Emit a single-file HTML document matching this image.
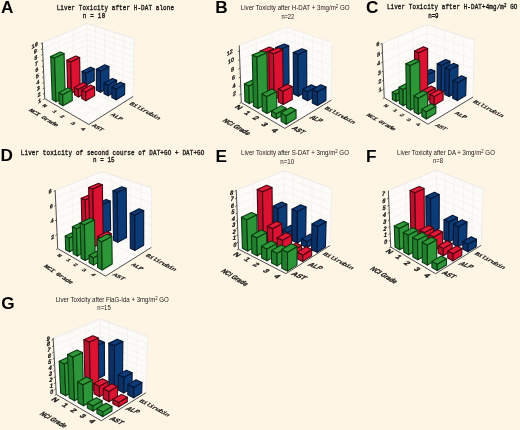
<!DOCTYPE html>
<html><head><meta charset="utf-8"><style>
html,body{margin:0;padding:0;background:#fff5e4;}
svg{display:block;filter:blur(0.4px);}
</style></head><body>
<svg width="520" height="430" viewBox="0 0 520 430">
<rect width="520" height="430" fill="#fff5e4"/>
<!-- panel A -->
<polygon points="44.74,98.71 87.52,75.70 86.95,23.52 42.37,42.87" fill="#fcfbf8"/>
<polygon points="87.52,75.70 132.97,96.48 134.26,38.63 86.95,23.52" fill="#fcfbf8"/>
<polygon points="44.74,98.71 88.91,124.52 132.97,96.48 87.52,75.70" fill="#fcfbf8"/>
<line x1="44.51" y1="93.33" x2="87.46" y2="70.65" stroke="#ebebe9" stroke-width="0.50"/>
<line x1="87.46" y1="70.65" x2="133.09" y2="90.91" stroke="#ebebe9" stroke-width="0.50"/>
<line x1="44.28" y1="87.90" x2="87.41" y2="65.57" stroke="#ebebe9" stroke-width="0.50"/>
<line x1="87.41" y1="65.57" x2="133.22" y2="85.29" stroke="#ebebe9" stroke-width="0.50"/>
<line x1="44.05" y1="82.43" x2="87.35" y2="60.45" stroke="#ebebe9" stroke-width="0.50"/>
<line x1="87.35" y1="60.45" x2="133.34" y2="79.62" stroke="#ebebe9" stroke-width="0.50"/>
<line x1="43.82" y1="76.91" x2="87.29" y2="55.29" stroke="#ebebe9" stroke-width="0.50"/>
<line x1="87.29" y1="55.29" x2="133.47" y2="73.91" stroke="#ebebe9" stroke-width="0.50"/>
<line x1="43.58" y1="71.35" x2="87.24" y2="50.09" stroke="#ebebe9" stroke-width="0.50"/>
<line x1="87.24" y1="50.09" x2="133.60" y2="68.16" stroke="#ebebe9" stroke-width="0.50"/>
<line x1="43.34" y1="65.75" x2="87.18" y2="44.85" stroke="#ebebe9" stroke-width="0.50"/>
<line x1="87.18" y1="44.85" x2="133.73" y2="62.35" stroke="#ebebe9" stroke-width="0.50"/>
<line x1="43.10" y1="60.10" x2="87.12" y2="39.58" stroke="#ebebe9" stroke-width="0.50"/>
<line x1="87.12" y1="39.58" x2="133.86" y2="56.49" stroke="#ebebe9" stroke-width="0.50"/>
<line x1="42.86" y1="54.40" x2="87.07" y2="34.27" stroke="#ebebe9" stroke-width="0.50"/>
<line x1="87.07" y1="34.27" x2="133.99" y2="50.59" stroke="#ebebe9" stroke-width="0.50"/>
<line x1="42.62" y1="48.66" x2="87.01" y2="28.91" stroke="#ebebe9" stroke-width="0.50"/>
<line x1="87.01" y1="28.91" x2="134.13" y2="44.64" stroke="#ebebe9" stroke-width="0.50"/>
<line x1="42.37" y1="42.87" x2="86.95" y2="23.52" stroke="#ebebe9" stroke-width="0.50"/>
<line x1="86.95" y1="23.52" x2="134.26" y2="38.63" stroke="#ebebe9" stroke-width="0.50"/>
<line x1="59.78" y1="90.62" x2="58.08" y2="36.05" stroke="#ebebe9" stroke-width="0.50"/>
<line x1="59.78" y1="90.62" x2="104.51" y2="114.59" stroke="#ebebe9" stroke-width="0.50"/>
<line x1="74.02" y1="82.96" x2="72.92" y2="29.61" stroke="#ebebe9" stroke-width="0.50"/>
<line x1="74.02" y1="82.96" x2="119.17" y2="105.26" stroke="#ebebe9" stroke-width="0.50"/>
<line x1="95.81" y1="79.49" x2="95.55" y2="26.26" stroke="#ebebe9" stroke-width="0.50"/>
<line x1="52.73" y1="103.38" x2="95.81" y2="79.49" stroke="#ebebe9" stroke-width="0.50"/>
<line x1="104.47" y1="83.45" x2="104.55" y2="29.14" stroke="#ebebe9" stroke-width="0.50"/>
<line x1="61.11" y1="108.28" x2="104.47" y2="83.45" stroke="#ebebe9" stroke-width="0.50"/>
<line x1="113.53" y1="87.59" x2="113.98" y2="32.15" stroke="#ebebe9" stroke-width="0.50"/>
<line x1="69.92" y1="113.42" x2="113.53" y2="87.59" stroke="#ebebe9" stroke-width="0.50"/>
<line x1="123.02" y1="91.93" x2="123.87" y2="35.31" stroke="#ebebe9" stroke-width="0.50"/>
<line x1="79.17" y1="118.83" x2="123.02" y2="91.93" stroke="#ebebe9" stroke-width="0.50"/>
<line x1="87.52" y1="75.70" x2="86.95" y2="23.52" stroke="#ebebe9" stroke-width="0.50"/>
<polyline points="42.37,42.87 86.95,23.52 134.26,38.63 132.97,96.48" fill="none" stroke="#e6e6e4" stroke-width="0.6"/>
<polyline points="42.37,42.87 44.74,98.71 88.91,124.52 132.97,96.48" fill="none" stroke="#3c3c3c" stroke-width="0.90"/>
<line x1="44.74" y1="98.71" x2="43.22" y2="99.68" stroke="#3c3c3c" stroke-width="0.8"/>
<line x1="44.51" y1="93.33" x2="42.99" y2="94.29" stroke="#3c3c3c" stroke-width="0.8"/>
<line x1="44.28" y1="87.90" x2="42.76" y2="88.87" stroke="#3c3c3c" stroke-width="0.8"/>
<line x1="44.05" y1="82.43" x2="42.53" y2="83.40" stroke="#3c3c3c" stroke-width="0.8"/>
<line x1="43.82" y1="76.91" x2="42.30" y2="77.88" stroke="#3c3c3c" stroke-width="0.8"/>
<line x1="43.58" y1="71.35" x2="42.06" y2="72.32" stroke="#3c3c3c" stroke-width="0.8"/>
<line x1="43.34" y1="65.75" x2="41.82" y2="66.72" stroke="#3c3c3c" stroke-width="0.8"/>
<line x1="43.10" y1="60.10" x2="41.58" y2="61.07" stroke="#3c3c3c" stroke-width="0.8"/>
<line x1="42.86" y1="54.40" x2="41.34" y2="55.37" stroke="#3c3c3c" stroke-width="0.8"/>
<line x1="42.62" y1="48.66" x2="41.10" y2="49.63" stroke="#3c3c3c" stroke-width="0.8"/>
<line x1="42.37" y1="42.87" x2="40.85" y2="43.84" stroke="#3c3c3c" stroke-width="0.8"/>
<polygon points="82.20,83.39 86.01,85.21 85.85,73.16 82.01,71.44" fill="rgb(12,48,100)" stroke="#051634" stroke-width="1.10" stroke-linejoin="round"/>
<polygon points="86.01,85.21 94.26,80.67 94.17,68.77 85.85,73.16" fill="rgb(12,60,120)" stroke="#051634" stroke-width="1.10" stroke-linejoin="round"/>
<polygon points="82.01,71.44 85.85,73.16 94.17,68.77 90.31,67.12" fill="rgb(14,60,120)" stroke="#051634" stroke-width="1.10" stroke-linejoin="round"/>
<polygon points="96.45,90.22 100.55,92.19 100.47,70.96 96.32,69.19" fill="rgb(12,48,100)" stroke="#051634" stroke-width="1.10" stroke-linejoin="round"/>
<polygon points="100.55,92.19 108.86,87.35 108.91,66.42 100.47,70.96" fill="rgb(12,60,120)" stroke="#051634" stroke-width="1.10" stroke-linejoin="round"/>
<polygon points="96.32,69.19 100.47,70.96 108.91,66.42 104.73,64.73" fill="rgb(14,60,120)" stroke="#051634" stroke-width="1.10" stroke-linejoin="round"/>
<polygon points="103.98,93.83 108.24,95.87 108.26,85.14 103.97,83.20" fill="rgb(12,48,100)" stroke="#051634" stroke-width="1.10" stroke-linejoin="round"/>
<polygon points="108.24,95.87 116.58,90.88 116.66,80.30 108.26,85.14" fill="rgb(12,60,120)" stroke="#051634" stroke-width="1.10" stroke-linejoin="round"/>
<polygon points="103.97,83.20 108.26,85.14 116.66,80.30 112.35,78.44" fill="rgb(14,60,120)" stroke="#051634" stroke-width="1.10" stroke-linejoin="round"/>
<polygon points="111.80,97.58 116.23,99.70 116.31,89.11 111.85,87.08" fill="rgb(12,48,100)" stroke="#051634" stroke-width="1.10" stroke-linejoin="round"/>
<polygon points="116.23,99.70 124.59,94.55 124.73,84.11 116.31,89.11" fill="rgb(12,60,120)" stroke="#051634" stroke-width="1.10" stroke-linejoin="round"/>
<polygon points="111.85,87.08 116.31,89.11 124.73,84.11 120.25,82.17" fill="rgb(14,60,120)" stroke="#051634" stroke-width="1.10" stroke-linejoin="round"/>
<polygon points="67.67,91.28 71.44,93.24 70.71,61.96 66.87,60.28" fill="rgb(186,18,44)" stroke="#4a0510" stroke-width="1.10" stroke-linejoin="round"/>
<polygon points="71.44,93.24 80.17,88.43 79.63,57.58 70.71,61.96" fill="rgb(220,18,50)" stroke="#4a0510" stroke-width="1.10" stroke-linejoin="round"/>
<polygon points="66.87,60.28 70.71,61.96 79.63,57.58 75.76,55.98" fill="rgb(224,26,56)" stroke="#4a0510" stroke-width="1.10" stroke-linejoin="round"/>
<polygon points="74.59,94.88 78.51,96.92 78.37,89.34 74.43,87.37" fill="rgb(186,18,44)" stroke="#4a0510" stroke-width="1.10" stroke-linejoin="round"/>
<polygon points="78.51,96.92 87.28,91.96 87.18,84.48 78.37,89.34" fill="rgb(220,18,50)" stroke="#4a0510" stroke-width="1.10" stroke-linejoin="round"/>
<polygon points="74.43,87.37 78.37,89.34 87.18,84.48 83.22,82.60" fill="rgb(224,26,56)" stroke="#4a0510" stroke-width="1.10" stroke-linejoin="round"/>
<polygon points="81.78,98.62 85.85,100.74 85.73,91.95 81.64,89.91" fill="rgb(186,18,44)" stroke="#4a0510" stroke-width="1.10" stroke-linejoin="round"/>
<polygon points="85.85,100.74 94.66,95.61 94.59,86.95 85.73,91.95" fill="rgb(220,18,50)" stroke="#4a0510" stroke-width="1.10" stroke-linejoin="round"/>
<polygon points="81.64,89.91 85.73,91.95 94.59,86.95 90.48,85.00" fill="rgb(224,26,56)" stroke="#4a0510" stroke-width="1.10" stroke-linejoin="round"/>
<polygon points="52.29,99.64 56.01,101.75 54.52,58.10 50.71,56.40" fill="rgb(34,126,46)" stroke="#0b3a10" stroke-width="1.10" stroke-linejoin="round"/>
<polygon points="56.01,101.75 65.25,96.65 64.06,53.62 54.52,58.10" fill="rgb(44,150,56)" stroke="#0b3a10" stroke-width="1.10" stroke-linejoin="round"/>
<polygon points="50.71,56.40 54.52,58.10 64.06,53.62 60.22,52.00" fill="rgb(48,154,58)" stroke="#0b3a10" stroke-width="1.10" stroke-linejoin="round"/>
<polygon points="59.12,103.51 62.99,105.70 62.66,94.75 58.77,92.66" fill="rgb(34,126,46)" stroke="#0b3a10" stroke-width="1.10" stroke-linejoin="round"/>
<polygon points="62.99,105.70 72.29,100.44 72.04,89.64 62.66,94.75" fill="rgb(44,150,56)" stroke="#0b3a10" stroke-width="1.10" stroke-linejoin="round"/>
<polygon points="58.77,92.66 62.66,94.75 72.04,89.64 68.12,87.64" fill="rgb(48,154,58)" stroke="#0b3a10" stroke-width="1.10" stroke-linejoin="round"/>
<text x="0.98" y="13.20" font-family="Liberation Sans" font-size="17.20" font-weight="bold" font-style="normal" fill="#000">A</text>
<text transform="translate(56.70 9.80) scale(1 1.200)" x="0" y="0" font-family="Liberation Mono" font-size="5.90" font-weight="normal" font-style="normal" fill="#1a1a1a" stroke="#1a1a1a" stroke-width="0.30" textLength="117.30" lengthAdjust="spacing">Liver Toxicity after H-DAT alone</text>
<text transform="translate(82.70 17.90) scale(1 1.200)" x="0" y="0" font-family="Liberation Mono" font-size="5.90" font-weight="normal" font-style="normal" fill="#1a1a1a" stroke="#1a1a1a" stroke-width="0.30" textLength="22.50" lengthAdjust="spacing">n = 10</text>
<text transform="matrix(0.7592 -0.4833 0.0000 0.8500 34.70 45.00)" x="0" y="0" dy="0.36em" text-anchor="middle" font-family="Liberation Mono" font-size="7.00" font-weight="bold" font-style="normal" fill="#111" stroke="#111" stroke-width="0.25">10</text>
<text transform="matrix(0.7592 -0.4833 0.0000 0.8500 35.23 51.17)" x="0" y="0" dy="0.36em" text-anchor="middle" font-family="Liberation Mono" font-size="7.00" font-weight="bold" font-style="normal" fill="#111" stroke="#111" stroke-width="0.25">9</text>
<text transform="matrix(0.7592 -0.4833 0.0000 0.8500 35.77 57.33)" x="0" y="0" dy="0.36em" text-anchor="middle" font-family="Liberation Mono" font-size="7.00" font-weight="bold" font-style="normal" fill="#111" stroke="#111" stroke-width="0.25">8</text>
<text transform="matrix(0.7592 -0.4833 0.0000 0.8500 36.30 63.50)" x="0" y="0" dy="0.36em" text-anchor="middle" font-family="Liberation Mono" font-size="7.00" font-weight="bold" font-style="normal" fill="#111" stroke="#111" stroke-width="0.25">7</text>
<text transform="matrix(0.7592 -0.4833 0.0000 0.8500 36.83 69.67)" x="0" y="0" dy="0.36em" text-anchor="middle" font-family="Liberation Mono" font-size="7.00" font-weight="bold" font-style="normal" fill="#111" stroke="#111" stroke-width="0.25">6</text>
<text transform="matrix(0.7592 -0.4833 0.0000 0.8500 37.37 75.83)" x="0" y="0" dy="0.36em" text-anchor="middle" font-family="Liberation Mono" font-size="7.00" font-weight="bold" font-style="normal" fill="#111" stroke="#111" stroke-width="0.25">5</text>
<text transform="matrix(0.7592 -0.4833 0.0000 0.8500 37.90 82.00)" x="0" y="0" dy="0.36em" text-anchor="middle" font-family="Liberation Mono" font-size="7.00" font-weight="bold" font-style="normal" fill="#111" stroke="#111" stroke-width="0.25">4</text>
<text transform="matrix(0.7592 -0.4833 0.0000 0.8500 38.43 88.17)" x="0" y="0" dy="0.36em" text-anchor="middle" font-family="Liberation Mono" font-size="7.00" font-weight="bold" font-style="normal" fill="#111" stroke="#111" stroke-width="0.25">3</text>
<text transform="matrix(0.7592 -0.4833 0.0000 0.8500 38.97 94.33)" x="0" y="0" dy="0.36em" text-anchor="middle" font-family="Liberation Mono" font-size="7.00" font-weight="bold" font-style="normal" fill="#111" stroke="#111" stroke-width="0.25">2</text>
<text transform="matrix(0.7592 -0.4833 0.0000 0.8500 39.50 100.50)" x="0" y="0" dy="0.36em" text-anchor="middle" font-family="Liberation Mono" font-size="7.00" font-weight="bold" font-style="normal" fill="#111" stroke="#111" stroke-width="0.25">1</text>
<text transform="matrix(0.8634 0.5045 -0.7171 0.4564 45.00 105.60)" x="0" y="0" dy="0.36em" text-anchor="middle" font-family="Liberation Mono" font-size="6.20" font-weight="bold" font-style="normal" fill="#151515" stroke="#151515" stroke-width="0.15">N</text>
<text transform="matrix(0.8634 0.5045 -0.7171 0.4564 55.00 111.30)" x="0" y="0" dy="0.36em" text-anchor="middle" font-family="Liberation Mono" font-size="6.20" font-weight="bold" font-style="normal" fill="#151515" stroke="#151515" stroke-width="0.15">1</text>
<text transform="matrix(0.8634 0.5045 -0.7171 0.4564 62.50 116.30)" x="0" y="0" dy="0.36em" text-anchor="middle" font-family="Liberation Mono" font-size="6.20" font-weight="bold" font-style="normal" fill="#151515" stroke="#151515" stroke-width="0.15">2</text>
<text transform="matrix(0.8634 0.5045 -0.7171 0.4564 73.10 123.10)" x="0" y="0" dy="0.36em" text-anchor="middle" font-family="Liberation Mono" font-size="6.20" font-weight="bold" font-style="normal" fill="#151515" stroke="#151515" stroke-width="0.15">3</text>
<text transform="matrix(0.8634 0.5045 -0.7171 0.4564 83.10 128.80)" x="0" y="0" dy="0.36em" text-anchor="middle" font-family="Liberation Mono" font-size="6.20" font-weight="bold" font-style="normal" fill="#151515" stroke="#151515" stroke-width="0.15">4</text>
<text transform="matrix(0.8663 0.4995 -0.7592 0.4833 44.05 117.50)" x="0" y="0" dy="0.36em" text-anchor="middle" font-family="Liberation Mono" font-size="6.80" font-weight="bold" font-style="normal" fill="#151515" stroke="#151515" stroke-width="0.15" textLength="32.44" lengthAdjust="spacing">NCI Grade</text>
<text transform="matrix(0.8693 0.4943 -0.7592 0.4833 98.10 127.50)" x="0" y="0" dy="0.36em" text-anchor="middle" font-family="Liberation Mono" font-size="6.80" font-weight="bold" font-style="normal" fill="#151515" stroke="#151515" stroke-width="0.15" textLength="11.73" lengthAdjust="spacing">AST</text>
<text transform="matrix(0.8844 0.4668 -0.7592 0.4833 117.20 116.65)" x="0" y="0" dy="0.36em" text-anchor="middle" font-family="Liberation Mono" font-size="6.80" font-weight="bold" font-style="normal" fill="#151515" stroke="#151515" stroke-width="0.15" textLength="12.21" lengthAdjust="spacing">ALP</text>
<text transform="matrix(0.8809 0.4732 -0.7592 0.4833 145.40 110.85)" x="0" y="0" dy="0.36em" text-anchor="middle" font-family="Liberation Mono" font-size="6.80" font-weight="bold" font-style="normal" fill="#151515" stroke="#151515" stroke-width="0.15" textLength="33.60" lengthAdjust="spacing">Bilirubin</text>
<!-- panel B -->
<polygon points="241.27,102.60 287.29,79.40 286.64,26.98 239.24,45.41" fill="#fcfbf8"/>
<polygon points="287.29,79.40 331.33,100.13 331.86,42.62 286.64,26.98" fill="#fcfbf8"/>
<polygon points="241.27,102.60 284.86,128.38 331.33,100.13 287.29,79.40" fill="#fcfbf8"/>
<line x1="240.97" y1="94.14" x2="287.19" y2="71.63" stroke="#ebebe9" stroke-width="0.50"/>
<line x1="287.19" y1="71.63" x2="331.41" y2="91.63" stroke="#ebebe9" stroke-width="0.50"/>
<line x1="240.67" y1="85.60" x2="287.10" y2="63.80" stroke="#ebebe9" stroke-width="0.50"/>
<line x1="287.10" y1="63.80" x2="331.49" y2="83.04" stroke="#ebebe9" stroke-width="0.50"/>
<line x1="240.37" y1="77.00" x2="287.00" y2="55.91" stroke="#ebebe9" stroke-width="0.50"/>
<line x1="287.00" y1="55.91" x2="331.57" y2="74.39" stroke="#ebebe9" stroke-width="0.50"/>
<line x1="240.06" y1="68.32" x2="286.90" y2="47.95" stroke="#ebebe9" stroke-width="0.50"/>
<line x1="286.90" y1="47.95" x2="331.65" y2="65.66" stroke="#ebebe9" stroke-width="0.50"/>
<line x1="239.75" y1="59.57" x2="286.80" y2="39.94" stroke="#ebebe9" stroke-width="0.50"/>
<line x1="286.80" y1="39.94" x2="331.73" y2="56.86" stroke="#ebebe9" stroke-width="0.50"/>
<line x1="239.43" y1="50.74" x2="286.70" y2="31.86" stroke="#ebebe9" stroke-width="0.50"/>
<line x1="286.70" y1="31.86" x2="331.81" y2="47.98" stroke="#ebebe9" stroke-width="0.50"/>
<line x1="257.61" y1="94.36" x2="256.10" y2="38.86" stroke="#ebebe9" stroke-width="0.50"/>
<line x1="257.61" y1="94.36" x2="301.47" y2="118.28" stroke="#ebebe9" stroke-width="0.50"/>
<line x1="272.92" y1="86.65" x2="271.86" y2="32.73" stroke="#ebebe9" stroke-width="0.50"/>
<line x1="272.92" y1="86.65" x2="316.92" y2="108.89" stroke="#ebebe9" stroke-width="0.50"/>
<line x1="295.41" y1="83.23" x2="294.96" y2="29.86" stroke="#ebebe9" stroke-width="0.50"/>
<line x1="249.24" y1="107.31" x2="295.41" y2="83.23" stroke="#ebebe9" stroke-width="0.50"/>
<line x1="303.86" y1="87.20" x2="303.62" y2="32.85" stroke="#ebebe9" stroke-width="0.50"/>
<line x1="257.56" y1="112.23" x2="303.86" y2="87.20" stroke="#ebebe9" stroke-width="0.50"/>
<line x1="312.64" y1="91.34" x2="312.64" y2="35.97" stroke="#ebebe9" stroke-width="0.50"/>
<line x1="266.26" y1="117.37" x2="312.64" y2="91.34" stroke="#ebebe9" stroke-width="0.50"/>
<line x1="321.79" y1="95.65" x2="322.05" y2="39.22" stroke="#ebebe9" stroke-width="0.50"/>
<line x1="275.35" y1="122.75" x2="321.79" y2="95.65" stroke="#ebebe9" stroke-width="0.50"/>
<line x1="287.29" y1="79.40" x2="286.64" y2="26.98" stroke="#ebebe9" stroke-width="0.50"/>
<polyline points="239.24,45.41 286.64,26.98 331.86,42.62 331.33,100.13" fill="none" stroke="#e6e6e4" stroke-width="0.6"/>
<polyline points="239.24,45.41 241.27,102.60 284.86,128.38 331.33,100.13" fill="none" stroke="#3c3c3c" stroke-width="0.90"/>
<line x1="241.27" y1="102.60" x2="239.74" y2="103.53" stroke="#3c3c3c" stroke-width="0.8"/>
<line x1="240.97" y1="94.14" x2="239.44" y2="95.07" stroke="#3c3c3c" stroke-width="0.8"/>
<line x1="240.67" y1="85.60" x2="239.13" y2="86.54" stroke="#3c3c3c" stroke-width="0.8"/>
<line x1="240.37" y1="77.00" x2="238.83" y2="77.93" stroke="#3c3c3c" stroke-width="0.8"/>
<line x1="240.06" y1="68.32" x2="238.52" y2="69.26" stroke="#3c3c3c" stroke-width="0.8"/>
<line x1="239.75" y1="59.57" x2="238.21" y2="60.50" stroke="#3c3c3c" stroke-width="0.8"/>
<line x1="239.43" y1="50.74" x2="237.89" y2="51.68" stroke="#3c3c3c" stroke-width="0.8"/>
<polygon points="276.11,85.45 280.53,87.59 280.07,49.43 275.59,47.63" fill="rgb(12,48,100)" stroke="#051634" stroke-width="1.10" stroke-linejoin="round"/>
<polygon points="280.53,87.59 289.04,83.22 288.71,45.73 280.07,49.43" fill="rgb(12,60,120)" stroke="#051634" stroke-width="1.10" stroke-linejoin="round"/>
<polygon points="275.59,47.63 280.07,49.43 288.71,45.73 284.23,44.00" fill="rgb(14,60,120)" stroke="#051634" stroke-width="1.10" stroke-linejoin="round"/>
<polygon points="293.51,93.88 298.29,96.19 298.07,54.48 293.22,52.56" fill="rgb(12,48,100)" stroke="#051634" stroke-width="1.10" stroke-linejoin="round"/>
<polygon points="298.29,96.19 306.78,91.48 306.69,50.52 298.07,54.48" fill="rgb(12,60,120)" stroke="#051634" stroke-width="1.10" stroke-linejoin="round"/>
<polygon points="293.22,52.56 298.07,54.48 306.69,50.52 301.85,48.68" fill="rgb(14,60,120)" stroke="#051634" stroke-width="1.10" stroke-linejoin="round"/>
<polygon points="302.73,98.34 307.70,100.75 307.68,91.65 302.70,89.33" fill="rgb(12,48,100)" stroke="#051634" stroke-width="1.10" stroke-linejoin="round"/>
<polygon points="307.70,100.75 316.16,95.86 316.18,86.92 307.68,91.65" fill="rgb(12,60,120)" stroke="#051634" stroke-width="1.10" stroke-linejoin="round"/>
<polygon points="302.70,89.33 307.68,91.65 316.18,86.92 311.21,84.70" fill="rgb(14,60,120)" stroke="#051634" stroke-width="1.10" stroke-linejoin="round"/>
<polygon points="312.32,102.99 317.49,105.49 317.52,91.83 312.33,89.46" fill="rgb(12,48,100)" stroke="#051634" stroke-width="1.10" stroke-linejoin="round"/>
<polygon points="317.49,105.49 325.93,100.41 326.00,87.00 317.52,91.83" fill="rgb(12,60,120)" stroke="#051634" stroke-width="1.10" stroke-linejoin="round"/>
<polygon points="312.33,89.46 317.52,91.83 326.00,87.00 320.82,84.73" fill="rgb(14,60,120)" stroke="#051634" stroke-width="1.10" stroke-linejoin="round"/>
<polygon points="261.03,93.04 265.45,95.33 264.68,52.82 260.20,50.92" fill="rgb(186,18,44)" stroke="#4a0510" stroke-width="1.10" stroke-linejoin="round"/>
<polygon points="265.45,95.33 274.53,90.67 273.93,48.92 264.68,52.82" fill="rgb(220,18,50)" stroke="#4a0510" stroke-width="1.10" stroke-linejoin="round"/>
<polygon points="260.20,50.92 264.68,52.82 273.93,48.92 269.44,47.10" fill="rgb(224,26,56)" stroke="#4a0510" stroke-width="1.10" stroke-linejoin="round"/>
<polygon points="269.56,97.47 274.16,99.85 273.48,53.69 268.81,51.75" fill="rgb(186,18,44)" stroke="#4a0510" stroke-width="1.10" stroke-linejoin="round"/>
<polygon points="274.16,99.85 283.24,95.01 282.74,49.69 273.48,53.69" fill="rgb(220,18,50)" stroke="#4a0510" stroke-width="1.10" stroke-linejoin="round"/>
<polygon points="268.81,51.75 273.48,53.69 282.74,49.69 278.07,47.83" fill="rgb(224,26,56)" stroke="#4a0510" stroke-width="1.10" stroke-linejoin="round"/>
<polygon points="278.43,102.07 283.21,104.55 283.07,91.36 278.26,89.01" fill="rgb(186,18,44)" stroke="#4a0510" stroke-width="1.10" stroke-linejoin="round"/>
<polygon points="283.21,104.55 292.29,99.51 292.20,86.57 283.07,91.36" fill="rgb(220,18,50)" stroke="#4a0510" stroke-width="1.10" stroke-linejoin="round"/>
<polygon points="278.26,89.01 283.07,91.36 292.20,86.57 287.40,84.31" fill="rgb(224,26,56)" stroke="#4a0510" stroke-width="1.10" stroke-linejoin="round"/>
<polygon points="244.93,101.16 249.33,103.62 248.90,86.07 244.48,83.78" fill="rgb(34,126,46)" stroke="#0b3a10" stroke-width="1.10" stroke-linejoin="round"/>
<polygon points="249.33,103.62 259.04,98.63 258.68,81.40 248.90,86.07" fill="rgb(44,150,56)" stroke="#0b3a10" stroke-width="1.10" stroke-linejoin="round"/>
<polygon points="244.48,83.78 248.90,86.07 258.68,81.40 254.25,79.21" fill="rgb(48,154,58)" stroke="#0b3a10" stroke-width="1.10" stroke-linejoin="round"/>
<polygon points="253.43,105.90 258.01,108.46 256.93,57.08 252.27,55.02" fill="rgb(34,126,46)" stroke="#0b3a10" stroke-width="1.10" stroke-linejoin="round"/>
<polygon points="258.01,108.46 267.74,103.27 266.87,52.86 256.93,57.08" fill="rgb(44,150,56)" stroke="#0b3a10" stroke-width="1.10" stroke-linejoin="round"/>
<polygon points="252.27,55.02 256.93,57.08 266.87,52.86 262.20,50.90" fill="rgb(48,154,58)" stroke="#0b3a10" stroke-width="1.10" stroke-linejoin="round"/>
<polygon points="262.28,110.84 267.06,113.51 266.76,96.48 261.95,93.99" fill="rgb(34,126,46)" stroke="#0b3a10" stroke-width="1.10" stroke-linejoin="round"/>
<polygon points="267.06,113.51 276.79,108.11 276.57,91.41 266.76,96.48" fill="rgb(44,150,56)" stroke="#0b3a10" stroke-width="1.10" stroke-linejoin="round"/>
<polygon points="261.95,93.99 266.76,96.48 276.57,91.41 271.76,89.02" fill="rgb(48,154,58)" stroke="#0b3a10" stroke-width="1.10" stroke-linejoin="round"/>
<polygon points="271.51,115.99 276.49,118.77 276.42,113.77 271.43,111.04" fill="rgb(34,126,46)" stroke="#0b3a10" stroke-width="1.10" stroke-linejoin="round"/>
<polygon points="276.49,118.77 286.23,113.15 286.18,108.24 276.42,113.77" fill="rgb(44,150,56)" stroke="#0b3a10" stroke-width="1.10" stroke-linejoin="round"/>
<polygon points="271.43,111.04 276.42,113.77 286.18,108.24 281.19,105.63" fill="rgb(48,154,58)" stroke="#0b3a10" stroke-width="1.10" stroke-linejoin="round"/>
<polygon points="281.13,121.36 286.33,124.26 286.25,115.69 281.03,112.88" fill="rgb(34,126,46)" stroke="#0b3a10" stroke-width="1.10" stroke-linejoin="round"/>
<polygon points="286.33,124.26 296.07,118.40 296.02,110.00 286.25,115.69" fill="rgb(44,150,56)" stroke="#0b3a10" stroke-width="1.10" stroke-linejoin="round"/>
<polygon points="281.03,112.88 286.25,115.69 296.02,110.00 290.80,107.31" fill="rgb(48,154,58)" stroke="#0b3a10" stroke-width="1.10" stroke-linejoin="round"/>
<text x="215.23" y="12.60" font-family="Liberation Sans" font-size="17.20" font-weight="bold" font-style="normal" fill="#000">B</text>
<text x="240.80" y="10.00" font-family="Liberation Sans" font-size="7.00" font-weight="normal" font-style="normal" fill="#1a1a1a" textLength="108.70" lengthAdjust="spacingAndGlyphs">Liver Toxicity after H-DAT + 3mg/m<tspan font-size="70%" dy="-2.2">2</tspan><tspan dy="2.2"> GO</tspan></text>
<text x="281.40" y="19.00" font-family="Liberation Sans" font-size="7.00" font-weight="normal" font-style="normal" fill="#1a1a1a" textLength="12.80" lengthAdjust="spacingAndGlyphs">n=22</text>
<text transform="matrix(0.7691 -0.4675 0.0000 0.8500 229.70 52.40)" x="0" y="0" dy="0.36em" text-anchor="middle" font-family="Liberation Sans" font-size="7.00" font-weight="bold" font-style="normal" fill="#111" stroke="#111" stroke-width="0.25">12</text>
<text transform="matrix(0.7691 -0.4675 0.0000 0.8500 231.10 60.50)" x="0" y="0" dy="0.36em" text-anchor="middle" font-family="Liberation Sans" font-size="7.00" font-weight="bold" font-style="normal" fill="#111" stroke="#111" stroke-width="0.25">10</text>
<text transform="matrix(0.7691 -0.4675 0.0000 0.8500 232.50 69.10)" x="0" y="0" dy="0.36em" text-anchor="middle" font-family="Liberation Sans" font-size="7.00" font-weight="bold" font-style="normal" fill="#111" stroke="#111" stroke-width="0.25">8</text>
<text transform="matrix(0.7691 -0.4675 0.0000 0.8500 233.40 77.50)" x="0" y="0" dy="0.36em" text-anchor="middle" font-family="Liberation Sans" font-size="7.00" font-weight="bold" font-style="normal" fill="#111" stroke="#111" stroke-width="0.25">6</text>
<text transform="matrix(0.7691 -0.4675 0.0000 0.8500 233.90 85.60)" x="0" y="0" dy="0.36em" text-anchor="middle" font-family="Liberation Sans" font-size="7.00" font-weight="bold" font-style="normal" fill="#111" stroke="#111" stroke-width="0.25">4</text>
<text transform="matrix(0.7691 -0.4675 0.0000 0.8500 234.60 93.50)" x="0" y="0" dy="0.36em" text-anchor="middle" font-family="Liberation Sans" font-size="7.00" font-weight="bold" font-style="normal" fill="#111" stroke="#111" stroke-width="0.25">2</text>
<text transform="matrix(0.8607 0.5091 -0.8545 0.5195 238.80 107.20)" x="0" y="0" dy="0.36em" text-anchor="middle" font-family="Liberation Sans" font-size="7.50" font-weight="bold" font-style="normal" fill="#151515" stroke="#151515" stroke-width="0.30">N</text>
<text transform="matrix(0.8607 0.5091 -0.8545 0.5195 247.50 113.00)" x="0" y="0" dy="0.36em" text-anchor="middle" font-family="Liberation Sans" font-size="7.50" font-weight="bold" font-style="normal" fill="#151515" stroke="#151515" stroke-width="0.30">1</text>
<text transform="matrix(0.8607 0.5091 -0.8545 0.5195 256.10 118.00)" x="0" y="0" dy="0.36em" text-anchor="middle" font-family="Liberation Sans" font-size="7.50" font-weight="bold" font-style="normal" fill="#151515" stroke="#151515" stroke-width="0.30">2</text>
<text transform="matrix(0.8607 0.5091 -0.8545 0.5195 264.80 124.50)" x="0" y="0" dy="0.36em" text-anchor="middle" font-family="Liberation Sans" font-size="7.50" font-weight="bold" font-style="normal" fill="#151515" stroke="#151515" stroke-width="0.30">3</text>
<text transform="matrix(0.8607 0.5091 -0.8545 0.5195 274.90 130.30)" x="0" y="0" dy="0.36em" text-anchor="middle" font-family="Liberation Sans" font-size="7.50" font-weight="bold" font-style="normal" fill="#151515" stroke="#151515" stroke-width="0.30">4</text>
<text transform="matrix(0.8682 0.4961 -0.8545 0.5195 237.00 126.70)" x="0" y="0" dy="0.36em" text-anchor="middle" font-family="Liberation Sans" font-size="7.50" font-weight="bold" font-style="normal" fill="#151515" stroke="#151515" stroke-width="0.30" textLength="29.02" lengthAdjust="spacingAndGlyphs">NCI Grade</text>
<text transform="matrix(0.8928 0.4505 -0.8545 0.5195 298.85 130.00)" x="0" y="0" dy="0.36em" text-anchor="middle" font-family="Liberation Sans" font-size="7.50" font-weight="bold" font-style="normal" fill="#151515" stroke="#151515" stroke-width="0.30" textLength="11.99" lengthAdjust="spacingAndGlyphs">AST</text>
<text transform="matrix(0.9156 0.4022 -0.8545 0.5195 316.55 118.85)" x="0" y="0" dy="0.36em" text-anchor="middle" font-family="Liberation Sans" font-size="7.50" font-weight="bold" font-style="normal" fill="#151515" stroke="#151515" stroke-width="0.30" textLength="11.69" lengthAdjust="spacingAndGlyphs">ALP</text>
<text transform="matrix(0.8845 0.4665 -0.7691 0.4675 340.40 115.00)" x="0" y="0" dy="0.36em" text-anchor="middle" font-family="Liberation Mono" font-size="6.80" font-weight="bold" font-style="normal" fill="#151515" stroke="#151515" stroke-width="0.15" textLength="33.01" lengthAdjust="spacing">Bilirubin</text>
<!-- panel C -->
<polygon points="384.21,97.82 427.33,75.74 426.98,24.60 382.11,43.28" fill="#fcfbf8"/>
<polygon points="427.33,75.74 473.01,97.08 474.51,40.02 426.98,24.60" fill="#fcfbf8"/>
<polygon points="384.21,97.82 428.07,124.20 473.01,97.08 427.33,75.74" fill="#fcfbf8"/>
<line x1="383.87" y1="89.02" x2="427.27" y2="67.47" stroke="#ebebe9" stroke-width="0.50"/>
<line x1="427.27" y1="67.47" x2="473.25" y2="87.89" stroke="#ebebe9" stroke-width="0.50"/>
<line x1="383.53" y1="80.11" x2="427.21" y2="59.10" stroke="#ebebe9" stroke-width="0.50"/>
<line x1="427.21" y1="59.10" x2="473.50" y2="78.57" stroke="#ebebe9" stroke-width="0.50"/>
<line x1="383.18" y1="71.08" x2="427.16" y2="50.63" stroke="#ebebe9" stroke-width="0.50"/>
<line x1="427.16" y1="50.63" x2="473.75" y2="69.13" stroke="#ebebe9" stroke-width="0.50"/>
<line x1="382.83" y1="61.94" x2="427.10" y2="42.06" stroke="#ebebe9" stroke-width="0.50"/>
<line x1="427.10" y1="42.06" x2="474.00" y2="59.56" stroke="#ebebe9" stroke-width="0.50"/>
<line x1="382.47" y1="52.67" x2="427.04" y2="33.38" stroke="#ebebe9" stroke-width="0.50"/>
<line x1="427.04" y1="33.38" x2="474.26" y2="49.86" stroke="#ebebe9" stroke-width="0.50"/>
<line x1="382.11" y1="43.28" x2="426.98" y2="24.60" stroke="#ebebe9" stroke-width="0.50"/>
<line x1="426.98" y1="24.60" x2="474.51" y2="40.02" stroke="#ebebe9" stroke-width="0.50"/>
<line x1="399.34" y1="90.07" x2="397.88" y2="36.71" stroke="#ebebe9" stroke-width="0.50"/>
<line x1="399.34" y1="90.07" x2="443.94" y2="114.62" stroke="#ebebe9" stroke-width="0.50"/>
<line x1="413.69" y1="82.72" x2="412.81" y2="30.50" stroke="#ebebe9" stroke-width="0.50"/>
<line x1="413.69" y1="82.72" x2="458.90" y2="105.60" stroke="#ebebe9" stroke-width="0.50"/>
<line x1="435.62" y1="79.61" x2="435.57" y2="27.39" stroke="#ebebe9" stroke-width="0.50"/>
<line x1="392.10" y1="102.57" x2="435.62" y2="79.61" stroke="#ebebe9" stroke-width="0.50"/>
<line x1="444.30" y1="83.67" x2="444.58" y2="30.31" stroke="#ebebe9" stroke-width="0.50"/>
<line x1="400.40" y1="107.56" x2="444.30" y2="83.67" stroke="#ebebe9" stroke-width="0.50"/>
<line x1="453.41" y1="87.92" x2="454.06" y2="33.39" stroke="#ebebe9" stroke-width="0.50"/>
<line x1="409.14" y1="112.81" x2="453.41" y2="87.92" stroke="#ebebe9" stroke-width="0.50"/>
<line x1="462.97" y1="92.39" x2="464.02" y2="36.62" stroke="#ebebe9" stroke-width="0.50"/>
<line x1="418.35" y1="118.35" x2="462.97" y2="92.39" stroke="#ebebe9" stroke-width="0.50"/>
<line x1="427.33" y1="75.74" x2="426.98" y2="24.60" stroke="#ebebe9" stroke-width="0.50"/>
<polyline points="382.11,43.28 426.98,24.60 474.51,40.02 473.01,97.08" fill="none" stroke="#e6e6e4" stroke-width="0.6"/>
<polyline points="382.11,43.28 384.21,97.82 428.07,124.20 473.01,97.08" fill="none" stroke="#3c3c3c" stroke-width="0.90"/>
<line x1="384.21" y1="97.82" x2="382.67" y2="98.75" stroke="#3c3c3c" stroke-width="0.8"/>
<line x1="383.87" y1="89.02" x2="382.33" y2="89.95" stroke="#3c3c3c" stroke-width="0.8"/>
<line x1="383.53" y1="80.11" x2="381.99" y2="81.04" stroke="#3c3c3c" stroke-width="0.8"/>
<line x1="383.18" y1="71.08" x2="381.64" y2="72.01" stroke="#3c3c3c" stroke-width="0.8"/>
<line x1="382.83" y1="61.94" x2="381.29" y2="62.87" stroke="#3c3c3c" stroke-width="0.8"/>
<line x1="382.47" y1="52.67" x2="380.93" y2="53.60" stroke="#3c3c3c" stroke-width="0.8"/>
<line x1="382.11" y1="43.28" x2="380.57" y2="44.21" stroke="#3c3c3c" stroke-width="0.8"/>
<polygon points="422.55,83.65 426.49,85.57 426.47,75.28 422.50,73.46" fill="rgb(12,48,100)" stroke="#051634" stroke-width="1.10" stroke-linejoin="round"/>
<polygon points="426.49,85.57 434.73,81.20 434.76,71.05 426.47,75.28" fill="rgb(12,60,120)" stroke="#051634" stroke-width="1.10" stroke-linejoin="round"/>
<polygon points="422.50,73.46 426.47,75.28 434.76,71.05 430.77,69.30" fill="rgb(14,60,120)" stroke="#051634" stroke-width="1.10" stroke-linejoin="round"/>
<polygon points="437.05,90.71 441.31,92.78 441.52,65.56 437.19,63.76" fill="rgb(12,48,100)" stroke="#051634" stroke-width="1.10" stroke-linejoin="round"/>
<polygon points="441.31,92.78 449.63,88.13 449.98,61.27 441.52,65.56" fill="rgb(12,60,120)" stroke="#051634" stroke-width="1.10" stroke-linejoin="round"/>
<polygon points="437.19,63.76 441.52,65.56 449.98,61.27 445.62,59.54" fill="rgb(14,60,120)" stroke="#051634" stroke-width="1.10" stroke-linejoin="round"/>
<polygon points="444.74,94.45 449.17,96.60 449.51,69.62 445.01,67.73" fill="rgb(12,48,100)" stroke="#051634" stroke-width="1.10" stroke-linejoin="round"/>
<polygon points="449.17,96.60 457.52,91.79 458.01,65.18 449.51,69.62" fill="rgb(12,60,120)" stroke="#051634" stroke-width="1.10" stroke-linejoin="round"/>
<polygon points="445.01,67.73 449.51,69.62 458.01,65.18 453.48,63.37" fill="rgb(14,60,120)" stroke="#051634" stroke-width="1.10" stroke-linejoin="round"/>
<polygon points="452.73,98.34 457.34,100.58 457.68,82.48 453.01,80.42" fill="rgb(12,48,100)" stroke="#051634" stroke-width="1.10" stroke-linejoin="round"/>
<polygon points="457.34,100.58 465.73,95.61 466.15,77.76 457.68,82.48" fill="rgb(12,60,120)" stroke="#051634" stroke-width="1.10" stroke-linejoin="round"/>
<polygon points="453.01,80.42 457.68,82.48 466.15,77.76 461.47,75.78" fill="rgb(14,60,120)" stroke="#051634" stroke-width="1.10" stroke-linejoin="round"/>
<polygon points="414.92,95.02 418.97,97.15 418.66,52.63 414.50,50.93" fill="rgb(186,18,44)" stroke="#4a0510" stroke-width="1.10" stroke-linejoin="round"/>
<polygon points="418.97,97.15 427.72,92.39 427.66,48.47 418.66,52.63" fill="rgb(220,18,50)" stroke="#4a0510" stroke-width="1.10" stroke-linejoin="round"/>
<polygon points="414.50,50.93 418.66,52.63 427.66,48.47 423.47,46.85" fill="rgb(224,26,56)" stroke="#4a0510" stroke-width="1.10" stroke-linejoin="round"/>
<polygon points="422.23,98.87 426.44,101.10 426.42,92.97 422.19,90.82" fill="rgb(186,18,44)" stroke="#4a0510" stroke-width="1.10" stroke-linejoin="round"/>
<polygon points="426.44,101.10 435.24,96.18 435.27,88.15 426.42,92.97" fill="rgb(220,18,50)" stroke="#4a0510" stroke-width="1.10" stroke-linejoin="round"/>
<polygon points="422.19,90.82 426.42,92.97 435.27,88.15 431.01,86.10" fill="rgb(224,26,56)" stroke="#4a0510" stroke-width="1.10" stroke-linejoin="round"/>
<polygon points="429.83,102.89 434.22,105.20 434.24,96.61 429.83,94.38" fill="rgb(186,18,44)" stroke="#4a0510" stroke-width="1.10" stroke-linejoin="round"/>
<polygon points="434.22,105.20 443.06,100.11 443.14,91.64 434.24,96.61" fill="rgb(220,18,50)" stroke="#4a0510" stroke-width="1.10" stroke-linejoin="round"/>
<polygon points="429.83,94.38 434.24,96.61 443.14,91.64 438.70,89.51" fill="rgb(224,26,56)" stroke="#4a0510" stroke-width="1.10" stroke-linejoin="round"/>
<polygon points="392.43,99.40 396.25,101.60 396.09,94.27 392.25,92.14" fill="rgb(34,126,46)" stroke="#0b3a10" stroke-width="1.10" stroke-linejoin="round"/>
<polygon points="396.25,101.60 405.44,96.73 405.33,89.49 396.09,94.27" fill="rgb(44,150,56)" stroke="#0b3a10" stroke-width="1.10" stroke-linejoin="round"/>
<polygon points="392.25,92.14 396.09,94.27 405.33,89.49 401.45,87.45" fill="rgb(48,154,58)" stroke="#0b3a10" stroke-width="1.10" stroke-linejoin="round"/>
<polygon points="399.34,103.38 403.32,105.67 403.04,89.44 399.01,87.31" fill="rgb(34,126,46)" stroke="#0b3a10" stroke-width="1.10" stroke-linejoin="round"/>
<polygon points="403.32,105.67 412.58,100.63 412.40,84.63 403.04,89.44" fill="rgb(44,150,56)" stroke="#0b3a10" stroke-width="1.10" stroke-linejoin="round"/>
<polygon points="399.01,87.31 403.04,89.44 412.40,84.63 408.34,82.58" fill="rgb(48,154,58)" stroke="#0b3a10" stroke-width="1.10" stroke-linejoin="round"/>
<polygon points="406.54,107.52 410.69,109.91 410.13,65.58 405.86,63.65" fill="rgb(34,126,46)" stroke="#0b3a10" stroke-width="1.10" stroke-linejoin="round"/>
<polygon points="410.69,109.91 420.01,104.69 419.73,61.00 410.13,65.58" fill="rgb(44,150,56)" stroke="#0b3a10" stroke-width="1.10" stroke-linejoin="round"/>
<polygon points="405.86,63.65 410.13,65.58 419.73,61.00 415.42,59.15" fill="rgb(48,154,58)" stroke="#0b3a10" stroke-width="1.10" stroke-linejoin="round"/>
<polygon points="414.04,111.83 418.37,114.32 418.24,98.16 413.87,95.84" fill="rgb(34,126,46)" stroke="#0b3a10" stroke-width="1.10" stroke-linejoin="round"/>
<polygon points="418.37,114.32 427.75,108.92 427.73,92.99 418.24,98.16" fill="rgb(44,150,56)" stroke="#0b3a10" stroke-width="1.10" stroke-linejoin="round"/>
<polygon points="413.87,95.84 418.24,98.16 427.73,92.99 423.32,90.76" fill="rgb(48,154,58)" stroke="#0b3a10" stroke-width="1.10" stroke-linejoin="round"/>
<polygon points="421.86,116.33 426.38,118.93 426.36,111.66 421.82,109.14" fill="rgb(34,126,46)" stroke="#0b3a10" stroke-width="1.10" stroke-linejoin="round"/>
<polygon points="426.38,118.93 435.82,113.34 435.85,106.17 426.36,111.66" fill="rgb(44,150,56)" stroke="#0b3a10" stroke-width="1.10" stroke-linejoin="round"/>
<polygon points="421.82,109.14 426.36,111.66 435.85,106.17 431.28,103.75" fill="rgb(48,154,58)" stroke="#0b3a10" stroke-width="1.10" stroke-linejoin="round"/>
<text x="366.07" y="12.70" font-family="Liberation Sans" font-size="17.20" font-weight="bold" font-style="normal" fill="#000">C</text>
<text transform="translate(386.90 9.20) scale(1 1.200)" x="0" y="0" font-family="Liberation Mono" font-size="5.90" font-weight="normal" font-style="normal" fill="#1a1a1a" stroke="#1a1a1a" stroke-width="0.30" textLength="130.50" lengthAdjust="spacing">Liver Toxicity after H-DAT+4mg/m<tspan font-size="70%" dy="-2.2">2</tspan><tspan dy="2.2"> GO</tspan></text>
<text transform="translate(428.30 17.50) scale(1 1.200)" x="0" y="0" font-family="Liberation Mono" font-size="5.90" font-weight="normal" font-style="normal" fill="#1a1a1a" stroke="#1a1a1a" stroke-width="0.30" textLength="10.30" lengthAdjust="spacing">n=9</text>
<text transform="matrix(0.7706 -0.4650 0.0000 0.8500 377.90 43.80)" x="0" y="0" dy="0.36em" text-anchor="middle" font-family="Liberation Mono" font-size="7.00" font-weight="bold" font-style="normal" fill="#111" stroke="#111" stroke-width="0.25">6</text>
<text transform="matrix(0.7706 -0.4650 0.0000 0.8500 378.60 54.00)" x="0" y="0" dy="0.36em" text-anchor="middle" font-family="Liberation Mono" font-size="7.00" font-weight="bold" font-style="normal" fill="#111" stroke="#111" stroke-width="0.25">5</text>
<text transform="matrix(0.7706 -0.4650 0.0000 0.8500 378.60 63.20)" x="0" y="0" dy="0.36em" text-anchor="middle" font-family="Liberation Mono" font-size="7.00" font-weight="bold" font-style="normal" fill="#111" stroke="#111" stroke-width="0.25">4</text>
<text transform="matrix(0.7706 -0.4650 0.0000 0.8500 379.40 72.60)" x="0" y="0" dy="0.36em" text-anchor="middle" font-family="Liberation Mono" font-size="7.00" font-weight="bold" font-style="normal" fill="#111" stroke="#111" stroke-width="0.25">3</text>
<text transform="matrix(0.7706 -0.4650 0.0000 0.8500 379.80 81.20)" x="0" y="0" dy="0.36em" text-anchor="middle" font-family="Liberation Mono" font-size="7.00" font-weight="bold" font-style="normal" fill="#111" stroke="#111" stroke-width="0.25">2</text>
<text transform="matrix(0.7706 -0.4650 0.0000 0.8500 380.10 89.40)" x="0" y="0" dy="0.36em" text-anchor="middle" font-family="Liberation Mono" font-size="7.00" font-weight="bold" font-style="normal" fill="#111" stroke="#111" stroke-width="0.25">1</text>
<text transform="matrix(0.8569 0.5154 -0.7277 0.4392 386.20 105.80)" x="0" y="0" dy="0.36em" text-anchor="middle" font-family="Liberation Mono" font-size="6.20" font-weight="bold" font-style="normal" fill="#151515" stroke="#151515" stroke-width="0.15">N</text>
<text transform="matrix(0.8569 0.5154 -0.7277 0.4392 395.40 110.40)" x="0" y="0" dy="0.36em" text-anchor="middle" font-family="Liberation Mono" font-size="6.20" font-weight="bold" font-style="normal" fill="#151515" stroke="#151515" stroke-width="0.15">1</text>
<text transform="matrix(0.8569 0.5154 -0.7277 0.4392 402.30 115.00)" x="0" y="0" dy="0.36em" text-anchor="middle" font-family="Liberation Mono" font-size="6.20" font-weight="bold" font-style="normal" fill="#151515" stroke="#151515" stroke-width="0.15">2</text>
<text transform="matrix(0.8569 0.5154 -0.7277 0.4392 408.90 119.60)" x="0" y="0" dy="0.36em" text-anchor="middle" font-family="Liberation Mono" font-size="6.20" font-weight="bold" font-style="normal" fill="#151515" stroke="#151515" stroke-width="0.15">3</text>
<text transform="matrix(0.8569 0.5154 -0.7277 0.4392 418.20 124.20)" x="0" y="0" dy="0.36em" text-anchor="middle" font-family="Liberation Mono" font-size="6.20" font-weight="bold" font-style="normal" fill="#151515" stroke="#151515" stroke-width="0.15">4</text>
<text transform="matrix(0.8740 0.4859 -0.7706 0.4650 381.55 121.90)" x="0" y="0" dy="0.36em" text-anchor="middle" font-family="Liberation Mono" font-size="6.80" font-weight="bold" font-style="normal" fill="#151515" stroke="#151515" stroke-width="0.15" textLength="31.69" lengthAdjust="spacing">NCI Grade</text>
<text transform="matrix(0.9085 0.4179 -0.7706 0.4650 441.50 126.90)" x="0" y="0" dy="0.36em" text-anchor="middle" font-family="Liberation Mono" font-size="6.80" font-weight="bold" font-style="normal" fill="#151515" stroke="#151515" stroke-width="0.15" textLength="11.01" lengthAdjust="spacing">AST</text>
<text transform="matrix(0.8928 0.4505 -0.7706 0.4650 461.15 115.00)" x="0" y="0" dy="0.36em" text-anchor="middle" font-family="Liberation Mono" font-size="6.80" font-weight="bold" font-style="normal" fill="#151515" stroke="#151515" stroke-width="0.15" textLength="11.99" lengthAdjust="spacing">ALP</text>
<text transform="matrix(0.8852 0.4652 -0.7706 0.4650 488.85 108.50)" x="0" y="0" dy="0.36em" text-anchor="middle" font-family="Liberation Mono" font-size="6.80" font-weight="bold" font-style="normal" fill="#151515" stroke="#151515" stroke-width="0.15" textLength="33.10" lengthAdjust="spacing">Bilirubin</text>
<!-- panel D -->
<polygon points="57.69,248.64 102.73,225.34 101.63,171.61 55.19,190.35" fill="#fcfbf8"/>
<polygon points="102.73,225.34 151.39,247.35 151.60,187.65 101.63,171.61" fill="#fcfbf8"/>
<polygon points="57.69,248.64 105.60,276.11 151.39,247.35 102.73,225.34" fill="#fcfbf8"/>
<line x1="57.39" y1="241.53" x2="102.59" y2="218.77" stroke="#ebebe9" stroke-width="0.50"/>
<line x1="102.59" y1="218.77" x2="151.41" y2="240.08" stroke="#ebebe9" stroke-width="0.50"/>
<line x1="57.08" y1="234.38" x2="102.46" y2="212.16" stroke="#ebebe9" stroke-width="0.50"/>
<line x1="102.46" y1="212.16" x2="151.44" y2="232.75" stroke="#ebebe9" stroke-width="0.50"/>
<line x1="56.77" y1="227.17" x2="102.32" y2="205.51" stroke="#ebebe9" stroke-width="0.50"/>
<line x1="102.32" y1="205.51" x2="151.47" y2="225.37" stroke="#ebebe9" stroke-width="0.50"/>
<line x1="56.46" y1="219.91" x2="102.19" y2="198.82" stroke="#ebebe9" stroke-width="0.50"/>
<line x1="102.19" y1="198.82" x2="151.49" y2="217.93" stroke="#ebebe9" stroke-width="0.50"/>
<line x1="56.14" y1="212.60" x2="102.05" y2="192.08" stroke="#ebebe9" stroke-width="0.50"/>
<line x1="102.05" y1="192.08" x2="151.52" y2="210.44" stroke="#ebebe9" stroke-width="0.50"/>
<line x1="55.83" y1="205.24" x2="101.91" y2="185.30" stroke="#ebebe9" stroke-width="0.50"/>
<line x1="101.91" y1="185.30" x2="151.54" y2="202.90" stroke="#ebebe9" stroke-width="0.50"/>
<line x1="55.51" y1="197.82" x2="101.77" y2="178.48" stroke="#ebebe9" stroke-width="0.50"/>
<line x1="101.77" y1="178.48" x2="151.57" y2="195.30" stroke="#ebebe9" stroke-width="0.50"/>
<line x1="55.19" y1="190.35" x2="101.63" y2="171.61" stroke="#ebebe9" stroke-width="0.50"/>
<line x1="101.63" y1="171.61" x2="151.60" y2="187.65" stroke="#ebebe9" stroke-width="0.50"/>
<line x1="73.62" y1="240.40" x2="71.64" y2="183.71" stroke="#ebebe9" stroke-width="0.50"/>
<line x1="73.62" y1="240.40" x2="121.91" y2="265.86" stroke="#ebebe9" stroke-width="0.50"/>
<line x1="88.61" y1="232.64" x2="87.10" y2="177.47" stroke="#ebebe9" stroke-width="0.50"/>
<line x1="88.61" y1="232.64" x2="137.14" y2="256.30" stroke="#ebebe9" stroke-width="0.50"/>
<line x1="111.61" y1="229.35" x2="110.73" y2="174.53" stroke="#ebebe9" stroke-width="0.50"/>
<line x1="66.35" y1="253.61" x2="111.61" y2="229.35" stroke="#ebebe9" stroke-width="0.50"/>
<line x1="120.89" y1="233.55" x2="120.24" y2="177.58" stroke="#ebebe9" stroke-width="0.50"/>
<line x1="75.44" y1="258.82" x2="120.89" y2="233.55" stroke="#ebebe9" stroke-width="0.50"/>
<line x1="130.59" y1="237.94" x2="130.20" y2="180.78" stroke="#ebebe9" stroke-width="0.50"/>
<line x1="84.99" y1="264.29" x2="130.59" y2="237.94" stroke="#ebebe9" stroke-width="0.50"/>
<line x1="140.75" y1="242.54" x2="140.64" y2="184.13" stroke="#ebebe9" stroke-width="0.50"/>
<line x1="95.03" y1="270.05" x2="140.75" y2="242.54" stroke="#ebebe9" stroke-width="0.50"/>
<line x1="102.73" y1="225.34" x2="101.63" y2="171.61" stroke="#ebebe9" stroke-width="0.50"/>
<polyline points="55.19,190.35 101.63,171.61 151.60,187.65 151.39,247.35" fill="none" stroke="#e6e6e4" stroke-width="0.6"/>
<polyline points="55.19,190.35 57.69,248.64 105.60,276.11 151.39,247.35" fill="none" stroke="#3c3c3c" stroke-width="0.90"/>
<line x1="57.69" y1="248.64" x2="56.17" y2="249.60" stroke="#3c3c3c" stroke-width="0.8"/>
<line x1="57.08" y1="234.38" x2="55.56" y2="235.33" stroke="#3c3c3c" stroke-width="0.8"/>
<line x1="56.46" y1="219.91" x2="54.93" y2="220.87" stroke="#3c3c3c" stroke-width="0.8"/>
<line x1="55.83" y1="205.24" x2="54.30" y2="206.19" stroke="#3c3c3c" stroke-width="0.8"/>
<line x1="55.19" y1="190.35" x2="53.66" y2="191.31" stroke="#3c3c3c" stroke-width="0.8"/>
<polygon points="97.93,232.97 101.89,234.83 101.39,205.06 97.39,203.46" fill="rgb(12,48,100)" stroke="#051634" stroke-width="1.10" stroke-linejoin="round"/>
<polygon points="101.89,234.83 110.60,230.25 110.22,200.94 101.39,205.06" fill="rgb(12,60,120)" stroke="#051634" stroke-width="1.10" stroke-linejoin="round"/>
<polygon points="97.39,203.46 101.39,205.06 110.22,200.94 106.20,199.40" fill="rgb(14,60,120)" stroke="#051634" stroke-width="1.10" stroke-linejoin="round"/>
<polygon points="113.53,240.32 117.79,242.32 117.28,192.27 112.94,190.71" fill="rgb(12,48,100)" stroke="#051634" stroke-width="1.10" stroke-linejoin="round"/>
<polygon points="117.79,242.32 126.53,237.44 126.21,188.19 117.28,192.27" fill="rgb(12,60,120)" stroke="#051634" stroke-width="1.10" stroke-linejoin="round"/>
<polygon points="112.94,190.71 117.28,192.27 126.21,188.19 121.87,186.71" fill="rgb(14,60,120)" stroke="#051634" stroke-width="1.10" stroke-linejoin="round"/>
<polygon points="130.33,248.23 134.92,250.39 134.82,215.16 130.16,213.33" fill="rgb(12,48,100)" stroke="#051634" stroke-width="1.10" stroke-linejoin="round"/>
<polygon points="134.92,250.39 143.69,245.17 143.70,210.53 134.82,215.16" fill="rgb(12,60,120)" stroke="#051634" stroke-width="1.10" stroke-linejoin="round"/>
<polygon points="130.16,213.33 134.82,215.16 143.70,210.53 139.05,208.77" fill="rgb(14,60,120)" stroke="#051634" stroke-width="1.10" stroke-linejoin="round"/>
<polygon points="82.30,241.08 86.22,243.08 85.22,199.86 81.23,198.25" fill="rgb(186,18,44)" stroke="#4a0510" stroke-width="1.10" stroke-linejoin="round"/>
<polygon points="86.22,243.08 95.48,238.21 94.65,195.69 85.22,199.86" fill="rgb(220,18,50)" stroke="#4a0510" stroke-width="1.10" stroke-linejoin="round"/>
<polygon points="81.23,198.25 85.22,199.86 94.65,195.69 90.65,194.14" fill="rgb(224,26,56)" stroke="#4a0510" stroke-width="1.10" stroke-linejoin="round"/>
<polygon points="89.90,244.95 93.98,247.03 92.82,188.94 88.65,187.40" fill="rgb(186,18,44)" stroke="#4a0510" stroke-width="1.10" stroke-linejoin="round"/>
<polygon points="93.98,247.03 103.26,242.00 102.34,184.86 92.82,188.94" fill="rgb(220,18,50)" stroke="#4a0510" stroke-width="1.10" stroke-linejoin="round"/>
<polygon points="88.65,187.40 92.82,188.94 102.34,184.86 98.16,183.39" fill="rgb(224,26,56)" stroke="#4a0510" stroke-width="1.10" stroke-linejoin="round"/>
<polygon points="97.80,248.97 102.03,251.13 101.82,238.45 97.57,236.41" fill="rgb(186,18,44)" stroke="#4a0510" stroke-width="1.10" stroke-linejoin="round"/>
<polygon points="102.03,251.13 111.35,245.93 111.19,233.45 101.82,238.45" fill="rgb(220,18,50)" stroke="#4a0510" stroke-width="1.10" stroke-linejoin="round"/>
<polygon points="97.57,236.41 101.82,238.45 111.19,233.45 106.92,231.50" fill="rgb(224,26,56)" stroke="#4a0510" stroke-width="1.10" stroke-linejoin="round"/>
<polygon points="65.67,249.71 69.56,251.85 69.14,238.10 65.24,236.08" fill="rgb(34,126,46)" stroke="#0b3a10" stroke-width="1.10" stroke-linejoin="round"/>
<polygon points="69.56,251.85 79.41,246.67 79.05,233.14 69.14,238.10" fill="rgb(44,150,56)" stroke="#0b3a10" stroke-width="1.10" stroke-linejoin="round"/>
<polygon points="65.24,236.08 69.14,238.10 79.05,233.14 75.12,231.20" fill="rgb(48,154,58)" stroke="#0b3a10" stroke-width="1.10" stroke-linejoin="round"/>
<polygon points="73.20,253.87 77.24,256.10 76.50,228.73 72.42,226.75" fill="rgb(34,126,46)" stroke="#0b3a10" stroke-width="1.10" stroke-linejoin="round"/>
<polygon points="77.24,256.10 87.13,250.74 86.52,223.83 76.50,228.73" fill="rgb(44,150,56)" stroke="#0b3a10" stroke-width="1.10" stroke-linejoin="round"/>
<polygon points="72.42,226.75 76.50,228.73 86.52,223.83 82.42,221.93" fill="rgb(48,154,58)" stroke="#0b3a10" stroke-width="1.10" stroke-linejoin="round"/>
<polygon points="81.03,258.20 85.23,260.52 84.38,224.77 80.12,222.79" fill="rgb(34,126,46)" stroke="#0b3a10" stroke-width="1.10" stroke-linejoin="round"/>
<polygon points="85.23,260.52 95.16,254.97 94.47,219.83 84.38,224.77" fill="rgb(44,150,56)" stroke="#0b3a10" stroke-width="1.10" stroke-linejoin="round"/>
<polygon points="80.12,222.79 84.38,224.77 94.47,219.83 90.20,217.93" fill="rgb(48,154,58)" stroke="#0b3a10" stroke-width="1.10" stroke-linejoin="round"/>
<polygon points="89.17,262.70 93.54,265.12 93.39,257.83 89.01,255.48" fill="rgb(34,126,46)" stroke="#0b3a10" stroke-width="1.10" stroke-linejoin="round"/>
<polygon points="93.54,265.12 103.51,259.37 103.40,252.20 93.39,257.83" fill="rgb(44,150,56)" stroke="#0b3a10" stroke-width="1.10" stroke-linejoin="round"/>
<polygon points="89.01,255.48 93.39,257.83 103.40,252.20 99.00,249.96" fill="rgb(48,154,58)" stroke="#0b3a10" stroke-width="1.10" stroke-linejoin="round"/>
<polygon points="97.64,267.39 102.20,269.91 101.73,241.74 97.12,239.50" fill="rgb(34,126,46)" stroke="#0b3a10" stroke-width="1.10" stroke-linejoin="round"/>
<polygon points="102.20,269.91 112.20,263.94 111.85,236.28 101.73,241.74" fill="rgb(44,150,56)" stroke="#0b3a10" stroke-width="1.10" stroke-linejoin="round"/>
<polygon points="97.12,239.50 101.73,241.74 111.85,236.28 107.24,234.13" fill="rgb(48,154,58)" stroke="#0b3a10" stroke-width="1.10" stroke-linejoin="round"/>
<text x="0.38" y="160.50" font-family="Liberation Sans" font-size="17.20" font-weight="bold" font-style="normal" fill="#000">D</text>
<text transform="translate(20.80 154.50) scale(1 1.200)" x="0" y="0" font-family="Liberation Mono" font-size="5.90" font-weight="normal" font-style="normal" fill="#1a1a1a" stroke="#1a1a1a" stroke-width="0.30" textLength="183.50" lengthAdjust="spacing">Liver toxicity of second course of DAT+GO + DAT+GO</text>
<text transform="translate(93.10 162.30) scale(1 1.200)" x="0" y="0" font-family="Liberation Mono" font-size="5.90" font-weight="normal" font-style="normal" fill="#1a1a1a" stroke="#1a1a1a" stroke-width="0.30" textLength="21.50" lengthAdjust="spacing">n = 15</text>
<text transform="matrix(0.7622 -0.4786 0.0000 0.8500 50.10 191.20)" x="0" y="0" dy="0.36em" text-anchor="middle" font-family="Liberation Mono" font-size="7.00" font-weight="bold" font-style="normal" fill="#111" stroke="#111" stroke-width="0.25">8</text>
<text transform="matrix(0.7622 -0.4786 0.0000 0.8500 51.40 206.20)" x="0" y="0" dy="0.36em" text-anchor="middle" font-family="Liberation Mono" font-size="7.00" font-weight="bold" font-style="normal" fill="#111" stroke="#111" stroke-width="0.25">6</text>
<text transform="matrix(0.7622 -0.4786 0.0000 0.8500 52.10 220.50)" x="0" y="0" dy="0.36em" text-anchor="middle" font-family="Liberation Mono" font-size="7.00" font-weight="bold" font-style="normal" fill="#111" stroke="#111" stroke-width="0.25">4</text>
<text transform="matrix(0.7622 -0.4786 0.0000 0.8500 52.60 236.80)" x="0" y="0" dy="0.36em" text-anchor="middle" font-family="Liberation Mono" font-size="7.00" font-weight="bold" font-style="normal" fill="#111" stroke="#111" stroke-width="0.25">2</text>
<text transform="matrix(0.8675 0.4974 -0.7198 0.4521 59.60 255.40)" x="0" y="0" dy="0.36em" text-anchor="middle" font-family="Liberation Mono" font-size="6.20" font-weight="bold" font-style="normal" fill="#151515" stroke="#151515" stroke-width="0.15">N</text>
<text transform="matrix(0.8675 0.4974 -0.7198 0.4521 68.80 260.00)" x="0" y="0" dy="0.36em" text-anchor="middle" font-family="Liberation Mono" font-size="6.20" font-weight="bold" font-style="normal" fill="#151515" stroke="#151515" stroke-width="0.15">1</text>
<text transform="matrix(0.8675 0.4974 -0.7198 0.4521 75.80 264.60)" x="0" y="0" dy="0.36em" text-anchor="middle" font-family="Liberation Mono" font-size="6.20" font-weight="bold" font-style="normal" fill="#151515" stroke="#151515" stroke-width="0.15">2</text>
<text transform="matrix(0.8675 0.4974 -0.7198 0.4521 84.20 270.00)" x="0" y="0" dy="0.36em" text-anchor="middle" font-family="Liberation Mono" font-size="6.20" font-weight="bold" font-style="normal" fill="#151515" stroke="#151515" stroke-width="0.15">3</text>
<text transform="matrix(0.8675 0.4974 -0.7198 0.4521 93.50 274.60)" x="0" y="0" dy="0.36em" text-anchor="middle" font-family="Liberation Mono" font-size="6.20" font-weight="bold" font-style="normal" fill="#151515" stroke="#151515" stroke-width="0.15">4</text>
<text transform="matrix(0.8427 0.5384 -0.7622 0.4786 58.85 274.25)" x="0" y="0" dy="0.36em" text-anchor="middle" font-family="Liberation Mono" font-size="6.80" font-weight="bold" font-style="normal" fill="#151515" stroke="#151515" stroke-width="0.15" textLength="32.87" lengthAdjust="spacing">NCI Grade</text>
<text transform="matrix(0.8944 0.4472 -0.7622 0.4786 119.20 276.50)" x="0" y="0" dy="0.36em" text-anchor="middle" font-family="Liberation Mono" font-size="6.80" font-weight="bold" font-style="normal" fill="#151515" stroke="#151515" stroke-width="0.15" textLength="12.07" lengthAdjust="spacing">AST</text>
<text transform="matrix(0.8944 0.4472 -0.7622 0.4786 137.70 266.50)" x="0" y="0" dy="0.36em" text-anchor="middle" font-family="Liberation Mono" font-size="6.80" font-weight="bold" font-style="normal" fill="#151515" stroke="#151515" stroke-width="0.15" textLength="12.07" lengthAdjust="spacing">ALP</text>
<text transform="matrix(0.8852 0.4652 -0.7622 0.4786 161.55 262.30)" x="0" y="0" dy="0.36em" text-anchor="middle" font-family="Liberation Mono" font-size="6.80" font-weight="bold" font-style="normal" fill="#151515" stroke="#151515" stroke-width="0.15" textLength="33.10" lengthAdjust="spacing">Bilirubin</text>
<!-- panel E -->
<polygon points="238.46,249.15 284.30,224.86 284.21,170.62 236.30,190.32" fill="#fcfbf8"/>
<polygon points="284.30,224.86 330.07,245.47 331.96,188.64 284.21,170.62" fill="#fcfbf8"/>
<polygon points="238.46,249.15 286.01,273.62 330.07,245.47 284.30,224.86" fill="#fcfbf8"/>
<line x1="238.20" y1="242.07" x2="284.29" y2="218.31" stroke="#ebebe9" stroke-width="0.50"/>
<line x1="284.29" y1="218.31" x2="330.30" y2="238.63" stroke="#ebebe9" stroke-width="0.50"/>
<line x1="237.94" y1="234.92" x2="284.28" y2="211.70" stroke="#ebebe9" stroke-width="0.50"/>
<line x1="284.28" y1="211.70" x2="330.53" y2="231.71" stroke="#ebebe9" stroke-width="0.50"/>
<line x1="237.67" y1="227.69" x2="284.27" y2="205.02" stroke="#ebebe9" stroke-width="0.50"/>
<line x1="284.27" y1="205.02" x2="330.76" y2="224.72" stroke="#ebebe9" stroke-width="0.50"/>
<line x1="237.40" y1="220.38" x2="284.26" y2="198.28" stroke="#ebebe9" stroke-width="0.50"/>
<line x1="284.26" y1="198.28" x2="330.99" y2="217.66" stroke="#ebebe9" stroke-width="0.50"/>
<line x1="237.13" y1="212.99" x2="284.24" y2="191.47" stroke="#ebebe9" stroke-width="0.50"/>
<line x1="284.24" y1="191.47" x2="331.23" y2="210.52" stroke="#ebebe9" stroke-width="0.50"/>
<line x1="236.86" y1="205.51" x2="284.23" y2="184.59" stroke="#ebebe9" stroke-width="0.50"/>
<line x1="284.23" y1="184.59" x2="331.47" y2="203.31" stroke="#ebebe9" stroke-width="0.50"/>
<line x1="236.58" y1="197.96" x2="284.22" y2="177.64" stroke="#ebebe9" stroke-width="0.50"/>
<line x1="284.22" y1="177.64" x2="331.71" y2="196.01" stroke="#ebebe9" stroke-width="0.50"/>
<line x1="236.30" y1="190.32" x2="284.21" y2="170.62" stroke="#ebebe9" stroke-width="0.50"/>
<line x1="284.21" y1="170.62" x2="331.96" y2="188.64" stroke="#ebebe9" stroke-width="0.50"/>
<line x1="254.73" y1="240.53" x2="253.35" y2="183.31" stroke="#ebebe9" stroke-width="0.50"/>
<line x1="254.73" y1="240.53" x2="301.71" y2="263.59" stroke="#ebebe9" stroke-width="0.50"/>
<line x1="269.98" y1="232.45" x2="269.28" y2="176.75" stroke="#ebebe9" stroke-width="0.50"/>
<line x1="269.98" y1="232.45" x2="316.36" y2="254.23" stroke="#ebebe9" stroke-width="0.50"/>
<line x1="293.02" y1="228.79" x2="293.29" y2="174.04" stroke="#ebebe9" stroke-width="0.50"/>
<line x1="247.48" y1="253.79" x2="293.02" y2="228.79" stroke="#ebebe9" stroke-width="0.50"/>
<line x1="301.96" y1="232.81" x2="302.60" y2="177.56" stroke="#ebebe9" stroke-width="0.50"/>
<line x1="256.73" y1="258.55" x2="301.96" y2="232.81" stroke="#ebebe9" stroke-width="0.50"/>
<line x1="311.10" y1="236.93" x2="312.14" y2="181.16" stroke="#ebebe9" stroke-width="0.50"/>
<line x1="266.23" y1="263.44" x2="311.10" y2="236.93" stroke="#ebebe9" stroke-width="0.50"/>
<line x1="320.47" y1="241.15" x2="321.92" y2="184.85" stroke="#ebebe9" stroke-width="0.50"/>
<line x1="275.99" y1="268.46" x2="320.47" y2="241.15" stroke="#ebebe9" stroke-width="0.50"/>
<line x1="284.30" y1="224.86" x2="284.21" y2="170.62" stroke="#ebebe9" stroke-width="0.50"/>
<polyline points="236.30,190.32 284.21,170.62 331.96,188.64 330.07,245.47" fill="none" stroke="#e6e6e4" stroke-width="0.6"/>
<polyline points="236.30,190.32 238.46,249.15 286.01,273.62 330.07,245.47" fill="none" stroke="#3c3c3c" stroke-width="0.90"/>
<line x1="238.46" y1="249.15" x2="236.94" y2="250.11" stroke="#3c3c3c" stroke-width="0.8"/>
<line x1="238.20" y1="242.07" x2="236.68" y2="243.04" stroke="#3c3c3c" stroke-width="0.8"/>
<line x1="237.94" y1="234.92" x2="236.42" y2="235.89" stroke="#3c3c3c" stroke-width="0.8"/>
<line x1="237.67" y1="227.69" x2="236.16" y2="228.66" stroke="#3c3c3c" stroke-width="0.8"/>
<line x1="237.40" y1="220.38" x2="235.89" y2="221.35" stroke="#3c3c3c" stroke-width="0.8"/>
<line x1="237.13" y1="212.99" x2="235.62" y2="213.96" stroke="#3c3c3c" stroke-width="0.8"/>
<line x1="236.86" y1="205.51" x2="235.34" y2="206.48" stroke="#3c3c3c" stroke-width="0.8"/>
<line x1="236.58" y1="197.96" x2="235.06" y2="198.93" stroke="#3c3c3c" stroke-width="0.8"/>
<line x1="236.30" y1="190.32" x2="234.78" y2="191.29" stroke="#3c3c3c" stroke-width="0.8"/>
<polygon points="273.14,231.92 278.23,234.29 278.07,208.59 272.88,206.34" fill="rgb(12,48,100)" stroke="#051634" stroke-width="1.10" stroke-linejoin="round"/>
<polygon points="278.23,234.29 286.84,229.59 286.84,204.27 278.07,208.59" fill="rgb(12,60,120)" stroke="#051634" stroke-width="1.10" stroke-linejoin="round"/>
<polygon points="272.88,206.34 278.07,208.59 286.84,204.27 281.69,202.10" fill="rgb(14,60,120)" stroke="#051634" stroke-width="1.10" stroke-linejoin="round"/>
<polygon points="282.39,236.22 287.61,238.64 287.61,232.36 282.37,229.96" fill="rgb(12,48,100)" stroke="#051634" stroke-width="1.10" stroke-linejoin="round"/>
<polygon points="287.61,238.64 296.15,233.81 296.19,227.62 287.61,232.36" fill="rgb(12,60,120)" stroke="#051634" stroke-width="1.10" stroke-linejoin="round"/>
<polygon points="282.37,229.96 287.61,232.36 296.19,227.62 290.99,225.30" fill="rgb(14,60,120)" stroke="#051634" stroke-width="1.10" stroke-linejoin="round"/>
<polygon points="291.87,240.61 297.21,243.09 297.44,211.59 291.98,209.26" fill="rgb(12,48,100)" stroke="#051634" stroke-width="1.10" stroke-linejoin="round"/>
<polygon points="297.21,243.09 305.67,238.13 306.09,207.10 297.44,211.59" fill="rgb(12,60,120)" stroke="#051634" stroke-width="1.10" stroke-linejoin="round"/>
<polygon points="291.98,209.26 297.44,211.59 306.09,207.10 300.67,204.85" fill="rgb(14,60,120)" stroke="#051634" stroke-width="1.10" stroke-linejoin="round"/>
<polygon points="301.57,245.12 307.04,247.66 307.13,241.55 301.63,239.04" fill="rgb(12,48,100)" stroke="#051634" stroke-width="1.10" stroke-linejoin="round"/>
<polygon points="307.04,247.66 315.42,242.55 315.55,236.53 307.13,241.55" fill="rgb(12,60,120)" stroke="#051634" stroke-width="1.10" stroke-linejoin="round"/>
<polygon points="301.63,239.04 307.13,241.55 315.55,236.53 310.09,234.10" fill="rgb(14,60,120)" stroke="#051634" stroke-width="1.10" stroke-linejoin="round"/>
<polygon points="311.51,249.73 317.12,252.33 317.68,226.57 311.97,224.09" fill="rgb(12,48,100)" stroke="#051634" stroke-width="1.10" stroke-linejoin="round"/>
<polygon points="317.12,252.33 325.41,247.07 326.12,221.70 317.68,226.57" fill="rgb(12,60,120)" stroke="#051634" stroke-width="1.10" stroke-linejoin="round"/>
<polygon points="311.97,224.09 317.68,226.57 326.12,221.70 320.45,219.31" fill="rgb(14,60,120)" stroke="#051634" stroke-width="1.10" stroke-linejoin="round"/>
<polygon points="258.26,239.88 263.42,242.37 262.56,191.65 257.22,189.41" fill="rgb(186,18,44)" stroke="#4a0510" stroke-width="1.10" stroke-linejoin="round"/>
<polygon points="263.42,242.37 272.56,237.38 272.04,187.45 262.56,191.65" fill="rgb(220,18,50)" stroke="#4a0510" stroke-width="1.10" stroke-linejoin="round"/>
<polygon points="257.22,189.41 262.56,191.65 272.04,187.45 266.74,185.29" fill="rgb(224,26,56)" stroke="#4a0510" stroke-width="1.10" stroke-linejoin="round"/>
<polygon points="267.62,244.40 272.91,246.96 272.72,228.60 267.37,226.14" fill="rgb(186,18,44)" stroke="#4a0510" stroke-width="1.10" stroke-linejoin="round"/>
<polygon points="272.91,246.96 281.98,241.82 281.91,223.75 272.72,228.60" fill="rgb(220,18,50)" stroke="#4a0510" stroke-width="1.10" stroke-linejoin="round"/>
<polygon points="267.37,226.14 272.72,228.60 281.91,223.75 276.60,221.36" fill="rgb(224,26,56)" stroke="#4a0510" stroke-width="1.10" stroke-linejoin="round"/>
<polygon points="277.21,249.04 282.63,251.66 282.59,240.23 277.13,237.67" fill="rgb(186,18,44)" stroke="#4a0510" stroke-width="1.10" stroke-linejoin="round"/>
<polygon points="282.63,251.66 291.63,246.37 291.67,235.12 282.59,240.23" fill="rgb(220,18,50)" stroke="#4a0510" stroke-width="1.10" stroke-linejoin="round"/>
<polygon points="277.13,237.67 282.59,240.23 291.67,235.12 286.25,232.64" fill="rgb(224,26,56)" stroke="#4a0510" stroke-width="1.10" stroke-linejoin="round"/>
<polygon points="287.04,253.79 292.59,256.47 292.61,250.82 287.04,248.17" fill="rgb(186,18,44)" stroke="#4a0510" stroke-width="1.10" stroke-linejoin="round"/>
<polygon points="292.59,256.47 301.51,251.03 301.57,245.47 292.61,250.82" fill="rgb(220,18,50)" stroke="#4a0510" stroke-width="1.10" stroke-linejoin="round"/>
<polygon points="287.04,248.17 292.61,250.82 301.57,245.47 296.04,242.90" fill="rgb(224,26,56)" stroke="#4a0510" stroke-width="1.10" stroke-linejoin="round"/>
<polygon points="297.12,258.66 302.81,261.41 302.88,254.97 297.17,252.25" fill="rgb(186,18,44)" stroke="#4a0510" stroke-width="1.10" stroke-linejoin="round"/>
<polygon points="302.81,261.41 311.64,255.81 311.76,249.46 302.88,254.97" fill="rgb(220,18,50)" stroke="#4a0510" stroke-width="1.10" stroke-linejoin="round"/>
<polygon points="297.17,252.25 302.88,254.97 311.76,249.46 306.09,246.84" fill="rgb(224,26,56)" stroke="#4a0510" stroke-width="1.10" stroke-linejoin="round"/>
<polygon points="242.45,248.34 247.66,250.97 246.77,219.63 241.44,217.16" fill="rgb(34,126,46)" stroke="#0b3a10" stroke-width="1.10" stroke-linejoin="round"/>
<polygon points="247.66,250.97 257.39,245.66 256.73,214.81 246.77,219.63" fill="rgb(44,150,56)" stroke="#0b3a10" stroke-width="1.10" stroke-linejoin="round"/>
<polygon points="241.44,217.16 246.77,219.63 256.73,214.81 251.44,212.42" fill="rgb(48,154,58)" stroke="#0b3a10" stroke-width="1.10" stroke-linejoin="round"/>
<polygon points="251.91,253.12 257.25,255.81 256.86,237.80 251.46,235.20" fill="rgb(34,126,46)" stroke="#0b3a10" stroke-width="1.10" stroke-linejoin="round"/>
<polygon points="257.25,255.81 266.92,250.35 266.66,232.62 256.86,237.80" fill="rgb(44,150,56)" stroke="#0b3a10" stroke-width="1.10" stroke-linejoin="round"/>
<polygon points="251.46,235.20 256.86,237.80 266.66,232.62 261.29,230.10" fill="rgb(48,154,58)" stroke="#0b3a10" stroke-width="1.10" stroke-linejoin="round"/>
<polygon points="261.61,258.01 267.09,260.78 266.92,249.04 261.40,246.33" fill="rgb(34,126,46)" stroke="#0b3a10" stroke-width="1.10" stroke-linejoin="round"/>
<polygon points="267.09,260.78 276.68,255.15 276.60,243.59 266.92,249.04" fill="rgb(44,150,56)" stroke="#0b3a10" stroke-width="1.10" stroke-linejoin="round"/>
<polygon points="261.40,246.33 266.92,249.04 276.60,243.59 271.11,240.97" fill="rgb(48,154,58)" stroke="#0b3a10" stroke-width="1.10" stroke-linejoin="round"/>
<polygon points="271.57,263.04 277.19,265.87 277.10,253.27 271.42,250.50" fill="rgb(34,126,46)" stroke="#0b3a10" stroke-width="1.10" stroke-linejoin="round"/>
<polygon points="277.19,265.87 286.70,260.07 286.70,247.67 277.10,253.27" fill="rgb(44,150,56)" stroke="#0b3a10" stroke-width="1.10" stroke-linejoin="round"/>
<polygon points="271.42,250.50 277.10,253.27 286.70,247.67 281.07,244.99" fill="rgb(48,154,58)" stroke="#0b3a10" stroke-width="1.10" stroke-linejoin="round"/>
<polygon points="281.77,268.19 287.54,271.10 287.55,252.25 281.70,249.43" fill="rgb(34,126,46)" stroke="#0b3a10" stroke-width="1.10" stroke-linejoin="round"/>
<polygon points="287.54,271.10 296.97,265.12 297.11,246.56 287.55,252.25" fill="rgb(44,150,56)" stroke="#0b3a10" stroke-width="1.10" stroke-linejoin="round"/>
<polygon points="281.70,249.43 287.55,252.25 297.11,246.56 291.31,243.85" fill="rgb(48,154,58)" stroke="#0b3a10" stroke-width="1.10" stroke-linejoin="round"/>
<text x="215.43" y="161.70" font-family="Liberation Sans" font-size="17.20" font-weight="bold" font-style="normal" fill="#000">E</text>
<text x="241.10" y="154.70" font-family="Liberation Sans" font-size="7.00" font-weight="normal" font-style="normal" fill="#1a1a1a" textLength="107.80" lengthAdjust="spacingAndGlyphs">Liver Toxicity after S-DAT + 3mg/m<tspan font-size="70%" dy="-2.2">2</tspan><tspan dy="2.2"> GO</tspan></text>
<text x="280.30" y="163.50" font-family="Liberation Sans" font-size="7.00" font-weight="normal" font-style="normal" fill="#1a1a1a" textLength="13.90" lengthAdjust="spacingAndGlyphs">n=10</text>
<text transform="matrix(0.8500 0.0000 -0.2126 1.0000 231.80 192.50)" x="0" y="0" dy="0.36em" text-anchor="middle" font-family="Liberation Sans" font-size="6.40" font-weight="bold" font-style="normal" fill="#111" stroke="#111" stroke-width="0.25">8</text>
<text transform="matrix(0.8500 0.0000 -0.2126 1.0000 232.20 199.00)" x="0" y="0" dy="0.36em" text-anchor="middle" font-family="Liberation Sans" font-size="6.40" font-weight="bold" font-style="normal" fill="#111" stroke="#111" stroke-width="0.25">7</text>
<text transform="matrix(0.8500 0.0000 -0.2126 1.0000 232.60 205.50)" x="0" y="0" dy="0.36em" text-anchor="middle" font-family="Liberation Sans" font-size="6.40" font-weight="bold" font-style="normal" fill="#111" stroke="#111" stroke-width="0.25">6</text>
<text transform="matrix(0.8500 0.0000 -0.2126 1.0000 233.00 212.00)" x="0" y="0" dy="0.36em" text-anchor="middle" font-family="Liberation Sans" font-size="6.40" font-weight="bold" font-style="normal" fill="#111" stroke="#111" stroke-width="0.25">5</text>
<text transform="matrix(0.8500 0.0000 -0.2126 1.0000 233.40 218.50)" x="0" y="0" dy="0.36em" text-anchor="middle" font-family="Liberation Sans" font-size="6.40" font-weight="bold" font-style="normal" fill="#111" stroke="#111" stroke-width="0.25">4</text>
<text transform="matrix(0.8500 0.0000 -0.2126 1.0000 233.80 225.00)" x="0" y="0" dy="0.36em" text-anchor="middle" font-family="Liberation Sans" font-size="6.40" font-weight="bold" font-style="normal" fill="#111" stroke="#111" stroke-width="0.25">3</text>
<text transform="matrix(0.8500 0.0000 -0.2126 1.0000 234.20 231.50)" x="0" y="0" dy="0.36em" text-anchor="middle" font-family="Liberation Sans" font-size="6.40" font-weight="bold" font-style="normal" fill="#111" stroke="#111" stroke-width="0.25">2</text>
<text transform="matrix(0.8500 0.0000 -0.2126 1.0000 234.60 238.00)" x="0" y="0" dy="0.36em" text-anchor="middle" font-family="Liberation Sans" font-size="6.40" font-weight="bold" font-style="normal" fill="#111" stroke="#111" stroke-width="0.25">1</text>
<text transform="matrix(0.8500 0.0000 -0.2126 1.0000 235.00 244.50)" x="0" y="0" dy="0.36em" text-anchor="middle" font-family="Liberation Sans" font-size="6.40" font-weight="bold" font-style="normal" fill="#111" stroke="#111" stroke-width="0.25">0</text>
<text transform="matrix(0.8891 0.4576 -0.8427 0.5383 237.30 254.60)" x="0" y="0" dy="0.36em" text-anchor="middle" font-family="Liberation Sans" font-size="7.50" font-weight="bold" font-style="normal" fill="#151515" stroke="#151515" stroke-width="0.30">N</text>
<text transform="matrix(0.8891 0.4576 -0.8427 0.5383 247.30 259.20)" x="0" y="0" dy="0.36em" text-anchor="middle" font-family="Liberation Sans" font-size="7.50" font-weight="bold" font-style="normal" fill="#151515" stroke="#151515" stroke-width="0.30">1</text>
<text transform="matrix(0.8891 0.4576 -0.8427 0.5383 256.50 264.60)" x="0" y="0" dy="0.36em" text-anchor="middle" font-family="Liberation Sans" font-size="7.50" font-weight="bold" font-style="normal" fill="#151515" stroke="#151515" stroke-width="0.30">2</text>
<text transform="matrix(0.8891 0.4576 -0.8427 0.5383 266.50 270.80)" x="0" y="0" dy="0.36em" text-anchor="middle" font-family="Liberation Sans" font-size="7.50" font-weight="bold" font-style="normal" fill="#151515" stroke="#151515" stroke-width="0.30">3</text>
<text transform="matrix(0.8891 0.4576 -0.8427 0.5383 277.30 276.20)" x="0" y="0" dy="0.36em" text-anchor="middle" font-family="Liberation Sans" font-size="7.50" font-weight="bold" font-style="normal" fill="#151515" stroke="#151515" stroke-width="0.30">4</text>
<text transform="matrix(0.8600 0.5104 -0.8427 0.5383 235.00 277.30)" x="0" y="0" dy="0.36em" text-anchor="middle" font-family="Liberation Sans" font-size="7.50" font-weight="bold" font-style="normal" fill="#151515" stroke="#151515" stroke-width="0.30" textLength="28.61" lengthAdjust="spacingAndGlyphs">NCI Grade</text>
<text transform="matrix(0.9245 0.3811 -0.8427 0.5383 299.25 275.80)" x="0" y="0" dy="0.36em" text-anchor="middle" font-family="Liberation Sans" font-size="7.50" font-weight="bold" font-style="normal" fill="#151515" stroke="#151515" stroke-width="0.30" textLength="14.17" lengthAdjust="spacingAndGlyphs">AST</text>
<text transform="matrix(0.9341 0.3569 -0.8427 0.5383 315.75 266.15)" x="0" y="0" dy="0.36em" text-anchor="middle" font-family="Liberation Sans" font-size="7.50" font-weight="bold" font-style="normal" fill="#151515" stroke="#151515" stroke-width="0.30" textLength="13.17" lengthAdjust="spacingAndGlyphs">ALP</text>
<text transform="matrix(0.8852 0.4652 -0.7585 0.4845 338.85 260.80)" x="0" y="0" dy="0.36em" text-anchor="middle" font-family="Liberation Mono" font-size="6.80" font-weight="bold" font-style="normal" fill="#151515" stroke="#151515" stroke-width="0.15" textLength="33.10" lengthAdjust="spacing">Bilirubin</text>
<!-- panel F -->
<polygon points="390.72,247.07 436.47,222.96 436.43,170.09 388.33,190.60" fill="#fcfbf8"/>
<polygon points="436.47,222.96 481.10,245.35 483.34,189.20 436.43,170.09" fill="#fcfbf8"/>
<polygon points="390.72,247.07 435.59,273.69 481.10,245.35 436.47,222.96" fill="#fcfbf8"/>
<line x1="390.44" y1="240.31" x2="436.46" y2="216.61" stroke="#ebebe9" stroke-width="0.50"/>
<line x1="436.46" y1="216.61" x2="481.37" y2="238.63" stroke="#ebebe9" stroke-width="0.50"/>
<line x1="390.15" y1="233.48" x2="436.46" y2="210.19" stroke="#ebebe9" stroke-width="0.50"/>
<line x1="436.46" y1="210.19" x2="481.64" y2="231.83" stroke="#ebebe9" stroke-width="0.50"/>
<line x1="389.85" y1="226.55" x2="436.45" y2="203.70" stroke="#ebebe9" stroke-width="0.50"/>
<line x1="436.45" y1="203.70" x2="481.91" y2="224.95" stroke="#ebebe9" stroke-width="0.50"/>
<line x1="389.56" y1="219.54" x2="436.45" y2="197.13" stroke="#ebebe9" stroke-width="0.50"/>
<line x1="436.45" y1="197.13" x2="482.19" y2="217.97" stroke="#ebebe9" stroke-width="0.50"/>
<line x1="389.25" y1="212.44" x2="436.44" y2="190.49" stroke="#ebebe9" stroke-width="0.50"/>
<line x1="436.44" y1="190.49" x2="482.47" y2="210.92" stroke="#ebebe9" stroke-width="0.50"/>
<line x1="388.95" y1="205.26" x2="436.44" y2="183.77" stroke="#ebebe9" stroke-width="0.50"/>
<line x1="436.44" y1="183.77" x2="482.76" y2="203.77" stroke="#ebebe9" stroke-width="0.50"/>
<line x1="388.64" y1="197.98" x2="436.43" y2="176.97" stroke="#ebebe9" stroke-width="0.50"/>
<line x1="436.43" y1="176.97" x2="483.05" y2="196.53" stroke="#ebebe9" stroke-width="0.50"/>
<line x1="388.33" y1="190.60" x2="436.43" y2="170.09" stroke="#ebebe9" stroke-width="0.50"/>
<line x1="436.43" y1="170.09" x2="483.34" y2="189.20" stroke="#ebebe9" stroke-width="0.50"/>
<line x1="406.83" y1="238.58" x2="405.31" y2="183.36" stroke="#ebebe9" stroke-width="0.50"/>
<line x1="406.83" y1="238.58" x2="451.69" y2="263.67" stroke="#ebebe9" stroke-width="0.50"/>
<line x1="422.06" y1="230.55" x2="421.32" y2="176.54" stroke="#ebebe9" stroke-width="0.50"/>
<line x1="422.06" y1="230.55" x2="466.83" y2="254.24" stroke="#ebebe9" stroke-width="0.50"/>
<line x1="444.86" y1="227.17" x2="445.22" y2="173.67" stroke="#ebebe9" stroke-width="0.50"/>
<line x1="399.11" y1="252.05" x2="444.86" y2="227.17" stroke="#ebebe9" stroke-width="0.50"/>
<line x1="453.50" y1="231.50" x2="454.29" y2="177.37" stroke="#ebebe9" stroke-width="0.50"/>
<line x1="407.78" y1="257.19" x2="453.50" y2="231.50" stroke="#ebebe9" stroke-width="0.50"/>
<line x1="462.42" y1="235.98" x2="463.66" y2="181.18" stroke="#ebebe9" stroke-width="0.50"/>
<line x1="416.73" y1="262.50" x2="462.42" y2="235.98" stroke="#ebebe9" stroke-width="0.50"/>
<line x1="471.61" y1="240.59" x2="473.34" y2="185.13" stroke="#ebebe9" stroke-width="0.50"/>
<line x1="426.00" y1="268.00" x2="471.61" y2="240.59" stroke="#ebebe9" stroke-width="0.50"/>
<line x1="436.47" y1="222.96" x2="436.43" y2="170.09" stroke="#ebebe9" stroke-width="0.50"/>
<polyline points="388.33,190.60 436.43,170.09 483.34,189.20 481.10,245.35" fill="none" stroke="#e6e6e4" stroke-width="0.6"/>
<polyline points="388.33,190.60 390.72,247.07 435.59,273.69 481.10,245.35" fill="none" stroke="#3c3c3c" stroke-width="0.90"/>
<line x1="390.72" y1="247.07" x2="389.19" y2="248.02" stroke="#3c3c3c" stroke-width="0.8"/>
<line x1="390.44" y1="240.31" x2="388.91" y2="241.27" stroke="#3c3c3c" stroke-width="0.8"/>
<line x1="390.15" y1="233.48" x2="388.62" y2="234.43" stroke="#3c3c3c" stroke-width="0.8"/>
<line x1="389.85" y1="226.55" x2="388.32" y2="227.50" stroke="#3c3c3c" stroke-width="0.8"/>
<line x1="389.56" y1="219.54" x2="388.03" y2="220.49" stroke="#3c3c3c" stroke-width="0.8"/>
<line x1="389.25" y1="212.44" x2="387.73" y2="213.40" stroke="#3c3c3c" stroke-width="0.8"/>
<line x1="388.95" y1="205.26" x2="387.42" y2="206.21" stroke="#3c3c3c" stroke-width="0.8"/>
<line x1="388.64" y1="197.98" x2="387.11" y2="198.93" stroke="#3c3c3c" stroke-width="0.8"/>
<polygon points="426.10,230.59 430.80,232.97 430.66,198.55 425.83,196.36" fill="rgb(12,48,100)" stroke="#051634" stroke-width="1.10" stroke-linejoin="round"/>
<polygon points="430.80,232.97 439.16,228.48 439.25,194.47 430.66,198.55" fill="rgb(12,60,120)" stroke="#051634" stroke-width="1.10" stroke-linejoin="round"/>
<polygon points="425.83,196.36 430.66,198.55 439.25,194.47 434.44,192.34" fill="rgb(14,60,120)" stroke="#051634" stroke-width="1.10" stroke-linejoin="round"/>
<polygon points="443.90,239.59 448.86,242.10 449.08,222.07 444.03,219.67" fill="rgb(12,48,100)" stroke="#051634" stroke-width="1.10" stroke-linejoin="round"/>
<polygon points="448.86,242.10 457.17,237.34 457.52,217.55 449.08,222.07" fill="rgb(12,60,120)" stroke="#051634" stroke-width="1.10" stroke-linejoin="round"/>
<polygon points="444.03,219.67 449.08,222.07 457.52,217.55 452.49,215.23" fill="rgb(14,60,120)" stroke="#051634" stroke-width="1.10" stroke-linejoin="round"/>
<polygon points="453.17,244.28 458.28,246.86 458.65,226.76 453.46,224.29" fill="rgb(12,48,100)" stroke="#051634" stroke-width="1.10" stroke-linejoin="round"/>
<polygon points="458.28,246.86 466.55,241.96 467.05,222.10 458.65,226.76" fill="rgb(12,60,120)" stroke="#051634" stroke-width="1.10" stroke-linejoin="round"/>
<polygon points="453.46,224.29 458.65,226.76 467.05,222.10 461.88,219.71" fill="rgb(14,60,120)" stroke="#051634" stroke-width="1.10" stroke-linejoin="round"/>
<polygon points="462.71,249.10 467.96,251.75 468.16,244.19 462.87,241.58" fill="rgb(12,48,100)" stroke="#051634" stroke-width="1.10" stroke-linejoin="round"/>
<polygon points="467.96,251.75 476.20,246.71 476.44,239.24 468.16,244.19" fill="rgb(12,60,120)" stroke="#051634" stroke-width="1.10" stroke-linejoin="round"/>
<polygon points="462.87,241.58 468.16,244.19 476.44,239.24 471.18,236.71" fill="rgb(14,60,120)" stroke="#051634" stroke-width="1.10" stroke-linejoin="round"/>
<polygon points="410.97,238.58 415.69,241.08 414.90,192.75 410.01,190.52" fill="rgb(186,18,44)" stroke="#4a0510" stroke-width="1.10" stroke-linejoin="round"/>
<polygon points="415.69,241.08 424.51,236.35 424.08,188.61 414.90,192.75" fill="rgb(220,18,50)" stroke="#4a0510" stroke-width="1.10" stroke-linejoin="round"/>
<polygon points="410.01,190.52 414.90,192.75 424.08,188.61 419.19,186.45" fill="rgb(224,26,56)" stroke="#4a0510" stroke-width="1.10" stroke-linejoin="round"/>
<polygon points="419.78,243.25 424.63,245.83 424.51,232.54 419.61,230.04" fill="rgb(186,18,44)" stroke="#4a0510" stroke-width="1.10" stroke-linejoin="round"/>
<polygon points="424.63,245.83 433.43,240.95 433.41,227.82 424.51,232.54" fill="rgb(220,18,50)" stroke="#4a0510" stroke-width="1.10" stroke-linejoin="round"/>
<polygon points="419.61,230.04 424.51,232.54 433.41,227.82 428.52,225.40" fill="rgb(224,26,56)" stroke="#4a0510" stroke-width="1.10" stroke-linejoin="round"/>
<polygon points="428.84,248.06 433.83,250.70 433.81,236.95 428.77,234.38" fill="rgb(186,18,44)" stroke="#4a0510" stroke-width="1.10" stroke-linejoin="round"/>
<polygon points="433.83,250.70 442.61,245.68 442.69,232.09 433.81,236.95" fill="rgb(220,18,50)" stroke="#4a0510" stroke-width="1.10" stroke-linejoin="round"/>
<polygon points="428.77,234.38 433.81,236.95 442.69,232.09 437.66,229.60" fill="rgb(224,26,56)" stroke="#4a0510" stroke-width="1.10" stroke-linejoin="round"/>
<polygon points="438.16,253.00 443.30,255.72 443.34,248.48 438.18,245.80" fill="rgb(186,18,44)" stroke="#4a0510" stroke-width="1.10" stroke-linejoin="round"/>
<polygon points="443.30,255.72 452.05,250.54 452.14,243.39 443.34,248.48" fill="rgb(220,18,50)" stroke="#4a0510" stroke-width="1.10" stroke-linejoin="round"/>
<polygon points="438.18,245.80 443.34,248.48 452.14,243.39 446.99,240.79" fill="rgb(224,26,56)" stroke="#4a0510" stroke-width="1.10" stroke-linejoin="round"/>
<polygon points="447.75,258.09 453.04,260.89 453.14,253.79 447.82,251.03" fill="rgb(186,18,44)" stroke="#4a0510" stroke-width="1.10" stroke-linejoin="round"/>
<polygon points="453.04,260.89 461.76,255.55 461.91,248.54 453.14,253.79" fill="rgb(220,18,50)" stroke="#4a0510" stroke-width="1.10" stroke-linejoin="round"/>
<polygon points="447.82,251.03 453.14,253.79 461.91,248.54 456.61,245.87" fill="rgb(224,26,56)" stroke="#4a0510" stroke-width="1.10" stroke-linejoin="round"/>
<polygon points="395.00,247.02 399.73,249.66 399.11,228.61 394.31,226.09" fill="rgb(34,126,46)" stroke="#0b3a10" stroke-width="1.10" stroke-linejoin="round"/>
<polygon points="399.73,249.66 409.05,244.65 408.60,223.86 399.11,228.61" fill="rgb(44,150,56)" stroke="#0b3a10" stroke-width="1.10" stroke-linejoin="round"/>
<polygon points="394.31,226.09 399.11,228.61 408.60,223.86 403.80,221.41" fill="rgb(48,154,58)" stroke="#0b3a10" stroke-width="1.10" stroke-linejoin="round"/>
<polygon points="403.83,251.94 408.70,254.66 408.26,235.07 403.33,232.47" fill="rgb(34,126,46)" stroke="#0b3a10" stroke-width="1.10" stroke-linejoin="round"/>
<polygon points="408.70,254.66 418.01,249.50 417.73,230.15 408.26,235.07" fill="rgb(44,150,56)" stroke="#0b3a10" stroke-width="1.10" stroke-linejoin="round"/>
<polygon points="403.33,232.47 408.26,235.07 417.73,230.15 412.79,227.63" fill="rgb(48,154,58)" stroke="#0b3a10" stroke-width="1.10" stroke-linejoin="round"/>
<polygon points="412.92,257.01 417.93,259.80 417.64,240.07 412.56,237.39" fill="rgb(34,126,46)" stroke="#0b3a10" stroke-width="1.10" stroke-linejoin="round"/>
<polygon points="417.93,259.80 427.22,254.49 427.08,235.00 417.64,240.07" fill="rgb(44,150,56)" stroke="#0b3a10" stroke-width="1.10" stroke-linejoin="round"/>
<polygon points="412.56,237.39 417.64,240.07 427.08,235.00 422.01,232.40" fill="rgb(48,154,58)" stroke="#0b3a10" stroke-width="1.10" stroke-linejoin="round"/>
<polygon points="422.28,262.23 427.44,265.11 427.30,245.05 422.06,242.29" fill="rgb(34,126,46)" stroke="#0b3a10" stroke-width="1.10" stroke-linejoin="round"/>
<polygon points="427.44,265.11 436.70,259.62 436.72,239.82 427.30,245.05" fill="rgb(44,150,56)" stroke="#0b3a10" stroke-width="1.10" stroke-linejoin="round"/>
<polygon points="422.06,242.29 427.30,245.05 436.72,239.82 431.49,237.15" fill="rgb(48,154,58)" stroke="#0b3a10" stroke-width="1.10" stroke-linejoin="round"/>
<polygon points="431.92,267.60 437.23,270.57 437.24,264.32 431.90,261.39" fill="rgb(34,126,46)" stroke="#0b3a10" stroke-width="1.10" stroke-linejoin="round"/>
<polygon points="437.23,270.57 446.47,264.91 446.52,258.74 437.24,264.32" fill="rgb(44,150,56)" stroke="#0b3a10" stroke-width="1.10" stroke-linejoin="round"/>
<polygon points="431.90,261.39 437.24,264.32 446.52,258.74 441.20,255.91" fill="rgb(48,154,58)" stroke="#0b3a10" stroke-width="1.10" stroke-linejoin="round"/>
<text x="365.89" y="161.90" font-family="Liberation Sans" font-size="17.20" font-weight="bold" font-style="normal" fill="#000">F</text>
<text x="397.00" y="154.70" font-family="Liberation Sans" font-size="7.00" font-weight="normal" font-style="normal" fill="#1a1a1a" textLength="97.90" lengthAdjust="spacingAndGlyphs">Liver Toxicity after DA + 3mg/m<tspan font-size="70%" dy="-2.2">2</tspan><tspan dy="2.2"> GO</tspan></text>
<text x="433.10" y="163.30" font-family="Liberation Sans" font-size="7.00" font-weight="normal" font-style="normal" fill="#1a1a1a" textLength="9.90" lengthAdjust="spacingAndGlyphs">n=8</text>
<text transform="matrix(0.8500 0.0000 -0.2126 1.0000 383.60 193.90)" x="0" y="0" dy="0.36em" text-anchor="middle" font-family="Liberation Sans" font-size="6.40" font-weight="bold" font-style="normal" fill="#111" stroke="#111" stroke-width="0.25">7</text>
<text transform="matrix(0.8500 0.0000 -0.2126 1.0000 383.90 200.76)" x="0" y="0" dy="0.36em" text-anchor="middle" font-family="Liberation Sans" font-size="6.40" font-weight="bold" font-style="normal" fill="#111" stroke="#111" stroke-width="0.25">6</text>
<text transform="matrix(0.8500 0.0000 -0.2126 1.0000 384.20 207.61)" x="0" y="0" dy="0.36em" text-anchor="middle" font-family="Liberation Sans" font-size="6.40" font-weight="bold" font-style="normal" fill="#111" stroke="#111" stroke-width="0.25">5</text>
<text transform="matrix(0.8500 0.0000 -0.2126 1.0000 384.50 214.47)" x="0" y="0" dy="0.36em" text-anchor="middle" font-family="Liberation Sans" font-size="6.40" font-weight="bold" font-style="normal" fill="#111" stroke="#111" stroke-width="0.25">4</text>
<text transform="matrix(0.8500 0.0000 -0.2126 1.0000 384.80 221.33)" x="0" y="0" dy="0.36em" text-anchor="middle" font-family="Liberation Sans" font-size="6.40" font-weight="bold" font-style="normal" fill="#111" stroke="#111" stroke-width="0.25">3</text>
<text transform="matrix(0.8500 0.0000 -0.2126 1.0000 385.10 228.19)" x="0" y="0" dy="0.36em" text-anchor="middle" font-family="Liberation Sans" font-size="6.40" font-weight="bold" font-style="normal" fill="#111" stroke="#111" stroke-width="0.25">2</text>
<text transform="matrix(0.8500 0.0000 -0.2126 1.0000 385.40 235.04)" x="0" y="0" dy="0.36em" text-anchor="middle" font-family="Liberation Sans" font-size="6.40" font-weight="bold" font-style="normal" fill="#111" stroke="#111" stroke-width="0.25">1</text>
<text transform="matrix(0.8500 0.0000 -0.2126 1.0000 385.70 241.90)" x="0" y="0" dy="0.36em" text-anchor="middle" font-family="Liberation Sans" font-size="6.40" font-weight="bold" font-style="normal" fill="#111" stroke="#111" stroke-width="0.25">0</text>
<text transform="matrix(0.8600 0.5103 -0.8488 0.5286 389.60 251.50)" x="0" y="0" dy="0.36em" text-anchor="middle" font-family="Liberation Sans" font-size="7.50" font-weight="bold" font-style="normal" fill="#151515" stroke="#151515" stroke-width="0.30">N</text>
<text transform="matrix(0.8600 0.5103 -0.8488 0.5286 398.80 256.90)" x="0" y="0" dy="0.36em" text-anchor="middle" font-family="Liberation Sans" font-size="7.50" font-weight="bold" font-style="normal" fill="#151515" stroke="#151515" stroke-width="0.30">1</text>
<text transform="matrix(0.8600 0.5103 -0.8488 0.5286 407.30 263.10)" x="0" y="0" dy="0.36em" text-anchor="middle" font-family="Liberation Sans" font-size="7.50" font-weight="bold" font-style="normal" fill="#151515" stroke="#151515" stroke-width="0.30">2</text>
<text transform="matrix(0.8600 0.5103 -0.8488 0.5286 417.30 269.20)" x="0" y="0" dy="0.36em" text-anchor="middle" font-family="Liberation Sans" font-size="7.50" font-weight="bold" font-style="normal" fill="#151515" stroke="#151515" stroke-width="0.30">3</text>
<text transform="matrix(0.8600 0.5103 -0.8488 0.5286 427.30 275.40)" x="0" y="0" dy="0.36em" text-anchor="middle" font-family="Liberation Sans" font-size="7.50" font-weight="bold" font-style="normal" fill="#151515" stroke="#151515" stroke-width="0.30">4</text>
<text transform="matrix(0.8600 0.5104 -0.8488 0.5286 384.20 275.00)" x="0" y="0" dy="0.36em" text-anchor="middle" font-family="Liberation Sans" font-size="7.50" font-weight="bold" font-style="normal" fill="#151515" stroke="#151515" stroke-width="0.30" textLength="28.61" lengthAdjust="spacingAndGlyphs">NCI Grade</text>
<text transform="matrix(0.9052 0.4250 -0.8488 0.5286 449.25 274.60)" x="0" y="0" dy="0.36em" text-anchor="middle" font-family="Liberation Sans" font-size="7.50" font-weight="bold" font-style="normal" fill="#151515" stroke="#151515" stroke-width="0.30" textLength="12.70" lengthAdjust="spacingAndGlyphs">AST</text>
<text transform="matrix(0.9366 0.3503 -0.8488 0.5286 466.55 265.00)" x="0" y="0" dy="0.36em" text-anchor="middle" font-family="Liberation Sans" font-size="7.50" font-weight="bold" font-style="normal" fill="#151515" stroke="#151515" stroke-width="0.30" textLength="13.13" lengthAdjust="spacingAndGlyphs">ALP</text>
<text transform="matrix(0.8845 0.4665 -0.7640 0.4758 490.40 260.40)" x="0" y="0" dy="0.36em" text-anchor="middle" font-family="Liberation Mono" font-size="6.80" font-weight="bold" font-style="normal" fill="#151515" stroke="#151515" stroke-width="0.15" textLength="33.01" lengthAdjust="spacing">Bilirubin</text>
<!-- panel G -->
<polygon points="56.28,394.41 100.80,371.14 100.20,318.71 53.16,337.96" fill="#fcfbf8"/>
<polygon points="100.80,371.14 145.94,392.68 147.79,335.93 100.20,318.71" fill="#fcfbf8"/>
<polygon points="56.28,394.41 101.32,420.81 145.94,392.68 100.80,371.14" fill="#fcfbf8"/>
<line x1="55.95" y1="388.56" x2="100.73" y2="365.69" stroke="#ebebe9" stroke-width="0.50"/>
<line x1="100.73" y1="365.69" x2="146.14" y2="386.81" stroke="#ebebe9" stroke-width="0.50"/>
<line x1="55.63" y1="382.65" x2="100.67" y2="360.17" stroke="#ebebe9" stroke-width="0.50"/>
<line x1="100.67" y1="360.17" x2="146.33" y2="380.86" stroke="#ebebe9" stroke-width="0.50"/>
<line x1="55.30" y1="376.67" x2="100.61" y2="354.60" stroke="#ebebe9" stroke-width="0.50"/>
<line x1="100.61" y1="354.60" x2="146.53" y2="374.85" stroke="#ebebe9" stroke-width="0.50"/>
<line x1="54.96" y1="370.61" x2="100.54" y2="348.97" stroke="#ebebe9" stroke-width="0.50"/>
<line x1="100.54" y1="348.97" x2="146.72" y2="368.76" stroke="#ebebe9" stroke-width="0.50"/>
<line x1="54.62" y1="364.49" x2="100.48" y2="343.28" stroke="#ebebe9" stroke-width="0.50"/>
<line x1="100.48" y1="343.28" x2="146.92" y2="362.60" stroke="#ebebe9" stroke-width="0.50"/>
<line x1="54.28" y1="358.29" x2="100.41" y2="337.53" stroke="#ebebe9" stroke-width="0.50"/>
<line x1="100.41" y1="337.53" x2="147.13" y2="356.37" stroke="#ebebe9" stroke-width="0.50"/>
<line x1="53.93" y1="352.02" x2="100.35" y2="331.72" stroke="#ebebe9" stroke-width="0.50"/>
<line x1="100.35" y1="331.72" x2="147.33" y2="350.07" stroke="#ebebe9" stroke-width="0.50"/>
<line x1="53.58" y1="345.68" x2="100.28" y2="325.84" stroke="#ebebe9" stroke-width="0.50"/>
<line x1="100.28" y1="325.84" x2="147.54" y2="343.69" stroke="#ebebe9" stroke-width="0.50"/>
<line x1="53.23" y1="339.26" x2="100.21" y2="319.90" stroke="#ebebe9" stroke-width="0.50"/>
<line x1="100.21" y1="319.90" x2="147.75" y2="337.23" stroke="#ebebe9" stroke-width="0.50"/>
<line x1="72.04" y1="386.18" x2="69.86" y2="331.13" stroke="#ebebe9" stroke-width="0.50"/>
<line x1="72.04" y1="386.18" x2="117.21" y2="410.79" stroke="#ebebe9" stroke-width="0.50"/>
<line x1="86.85" y1="378.43" x2="85.51" y2="324.72" stroke="#ebebe9" stroke-width="0.50"/>
<line x1="86.85" y1="378.43" x2="132.05" y2="401.44" stroke="#ebebe9" stroke-width="0.50"/>
<line x1="109.16" y1="375.13" x2="108.98" y2="321.88" stroke="#ebebe9" stroke-width="0.50"/>
<line x1="64.56" y1="399.26" x2="109.16" y2="375.13" stroke="#ebebe9" stroke-width="0.50"/>
<line x1="117.84" y1="379.27" x2="118.11" y2="325.19" stroke="#ebebe9" stroke-width="0.50"/>
<line x1="73.18" y1="404.32" x2="117.84" y2="379.27" stroke="#ebebe9" stroke-width="0.50"/>
<line x1="126.85" y1="383.57" x2="127.60" y2="328.62" stroke="#ebebe9" stroke-width="0.50"/>
<line x1="82.16" y1="409.58" x2="126.85" y2="383.57" stroke="#ebebe9" stroke-width="0.50"/>
<line x1="136.21" y1="388.04" x2="137.49" y2="332.20" stroke="#ebebe9" stroke-width="0.50"/>
<line x1="91.54" y1="415.07" x2="136.21" y2="388.04" stroke="#ebebe9" stroke-width="0.50"/>
<line x1="100.80" y1="371.14" x2="100.20" y2="318.71" stroke="#ebebe9" stroke-width="0.50"/>
<polyline points="53.16,337.96 100.20,318.71 147.79,335.93 145.94,392.68" fill="none" stroke="#e6e6e4" stroke-width="0.6"/>
<polyline points="53.16,337.96 56.28,394.41 101.32,420.81 145.94,392.68" fill="none" stroke="#3c3c3c" stroke-width="0.90"/>
<line x1="56.28" y1="394.41" x2="54.75" y2="395.37" stroke="#3c3c3c" stroke-width="0.8"/>
<line x1="55.95" y1="388.56" x2="54.43" y2="389.52" stroke="#3c3c3c" stroke-width="0.8"/>
<line x1="55.63" y1="382.65" x2="54.10" y2="383.61" stroke="#3c3c3c" stroke-width="0.8"/>
<line x1="55.30" y1="376.67" x2="53.77" y2="377.63" stroke="#3c3c3c" stroke-width="0.8"/>
<line x1="54.96" y1="370.61" x2="53.44" y2="371.57" stroke="#3c3c3c" stroke-width="0.8"/>
<line x1="54.62" y1="364.49" x2="53.10" y2="365.45" stroke="#3c3c3c" stroke-width="0.8"/>
<line x1="54.28" y1="358.29" x2="52.76" y2="359.25" stroke="#3c3c3c" stroke-width="0.8"/>
<line x1="53.93" y1="352.02" x2="52.41" y2="352.98" stroke="#3c3c3c" stroke-width="0.8"/>
<line x1="53.58" y1="345.68" x2="52.06" y2="346.64" stroke="#3c3c3c" stroke-width="0.8"/>
<line x1="53.23" y1="339.26" x2="51.71" y2="340.22" stroke="#3c3c3c" stroke-width="0.8"/>
<polygon points="91.42,376.89 96.54,379.41 96.09,346.10 90.83,343.86" fill="rgb(12,48,100)" stroke="#051634" stroke-width="1.10" stroke-linejoin="round"/>
<polygon points="96.54,379.41 104.56,375.14 104.36,342.26 96.09,346.10" fill="rgb(12,60,120)" stroke="#051634" stroke-width="1.10" stroke-linejoin="round"/>
<polygon points="90.83,343.86 96.09,346.10 104.36,342.26 99.10,340.10" fill="rgb(14,60,120)" stroke="#051634" stroke-width="1.10" stroke-linejoin="round"/>
<polygon points="108.94,385.53 114.43,388.24 114.54,345.59 108.84,343.26" fill="rgb(12,48,100)" stroke="#051634" stroke-width="1.10" stroke-linejoin="round"/>
<polygon points="114.43,388.24 122.45,383.67 122.86,341.59 114.54,345.59" fill="rgb(12,60,120)" stroke="#051634" stroke-width="1.10" stroke-linejoin="round"/>
<polygon points="108.84,343.26 114.54,345.59 122.86,341.59 117.16,339.34" fill="rgb(14,60,120)" stroke="#051634" stroke-width="1.10" stroke-linejoin="round"/>
<polygon points="118.18,390.08 123.88,392.89 124.06,377.31 118.28,374.63" fill="rgb(12,48,100)" stroke="#051634" stroke-width="1.10" stroke-linejoin="round"/>
<polygon points="123.88,392.89 131.89,388.16 132.17,372.78 124.06,377.31" fill="rgb(12,60,120)" stroke="#051634" stroke-width="1.10" stroke-linejoin="round"/>
<polygon points="118.28,374.63 124.06,377.31 132.17,372.78 126.40,370.20" fill="rgb(14,60,120)" stroke="#051634" stroke-width="1.10" stroke-linejoin="round"/>
<polygon points="127.77,394.81 133.69,397.73 133.90,387.19 127.93,384.36" fill="rgb(12,48,100)" stroke="#051634" stroke-width="1.10" stroke-linejoin="round"/>
<polygon points="133.69,397.73 141.67,392.82 141.95,382.42 133.90,387.19" fill="rgb(12,60,120)" stroke="#051634" stroke-width="1.10" stroke-linejoin="round"/>
<polygon points="127.93,384.36 133.90,387.19 141.95,382.42 135.99,379.70" fill="rgb(14,60,120)" stroke="#051634" stroke-width="1.10" stroke-linejoin="round"/>
<polygon points="85.09,389.18 90.39,391.96 89.43,342.11 83.91,339.77" fill="rgb(186,18,44)" stroke="#4a0510" stroke-width="1.10" stroke-linejoin="round"/>
<polygon points="90.39,391.96 98.91,387.28 98.34,338.10 89.43,342.11" fill="rgb(220,18,50)" stroke="#4a0510" stroke-width="1.10" stroke-linejoin="round"/>
<polygon points="83.91,339.77 89.43,342.11 98.34,338.10 92.82,335.85" fill="rgb(224,26,56)" stroke="#4a0510" stroke-width="1.10" stroke-linejoin="round"/>
<polygon points="94.00,393.86 99.50,396.75 99.38,386.20 93.83,383.41" fill="rgb(186,18,44)" stroke="#4a0510" stroke-width="1.10" stroke-linejoin="round"/>
<polygon points="99.50,396.75 108.02,391.89 107.98,381.48 99.38,386.20" fill="rgb(220,18,50)" stroke="#4a0510" stroke-width="1.10" stroke-linejoin="round"/>
<polygon points="93.83,383.41 99.38,386.20 107.98,381.48 102.44,378.79" fill="rgb(224,26,56)" stroke="#4a0510" stroke-width="1.10" stroke-linejoin="round"/>
<polygon points="103.25,398.72 108.96,401.72 108.94,391.40 103.17,388.49" fill="rgb(186,18,44)" stroke="#4a0510" stroke-width="1.10" stroke-linejoin="round"/>
<polygon points="108.96,401.72 117.47,396.68 117.53,386.50 108.94,391.40" fill="rgb(220,18,50)" stroke="#4a0510" stroke-width="1.10" stroke-linejoin="round"/>
<polygon points="103.17,388.49 108.94,391.40 117.53,386.50 111.77,383.70" fill="rgb(224,26,56)" stroke="#4a0510" stroke-width="1.10" stroke-linejoin="round"/>
<polygon points="112.86,403.77 118.79,406.88 118.82,402.50 112.86,399.42" fill="rgb(186,18,44)" stroke="#4a0510" stroke-width="1.10" stroke-linejoin="round"/>
<polygon points="118.79,406.88 127.29,401.66 127.36,397.33 118.82,402.50" fill="rgb(220,18,50)" stroke="#4a0510" stroke-width="1.10" stroke-linejoin="round"/>
<polygon points="112.86,399.42 118.82,402.50 127.36,397.33 121.41,394.37" fill="rgb(224,26,56)" stroke="#4a0510" stroke-width="1.10" stroke-linejoin="round"/>
<polygon points="60.66,392.92 65.75,395.78 64.42,363.87 59.20,361.29" fill="rgb(34,126,46)" stroke="#0b3a10" stroke-width="1.10" stroke-linejoin="round"/>
<polygon points="65.75,395.78 74.79,390.97 73.74,359.48 64.42,363.87" fill="rgb(44,150,56)" stroke="#0b3a10" stroke-width="1.10" stroke-linejoin="round"/>
<polygon points="59.20,361.29 64.42,363.87 73.74,359.48 68.51,357.00" fill="rgb(48,154,58)" stroke="#0b3a10" stroke-width="1.10" stroke-linejoin="round"/>
<polygon points="69.22,397.73 74.50,400.70 73.02,356.97 67.55,354.40" fill="rgb(34,126,46)" stroke="#0b3a10" stroke-width="1.10" stroke-linejoin="round"/>
<polygon points="74.50,400.70 83.56,395.72 82.47,352.58 73.02,356.97" fill="rgb(44,150,56)" stroke="#0b3a10" stroke-width="1.10" stroke-linejoin="round"/>
<polygon points="67.55,354.40 73.02,356.97 82.47,352.58 76.98,350.11" fill="rgb(48,154,58)" stroke="#0b3a10" stroke-width="1.10" stroke-linejoin="round"/>
<polygon points="78.11,402.73 83.60,405.81 83.06,384.78 77.47,381.89" fill="rgb(34,126,46)" stroke="#0b3a10" stroke-width="1.10" stroke-linejoin="round"/>
<polygon points="83.60,405.81 92.67,400.64 92.31,379.90 83.06,384.78" fill="rgb(44,150,56)" stroke="#0b3a10" stroke-width="1.10" stroke-linejoin="round"/>
<polygon points="77.47,381.89 83.06,384.78 92.31,379.90 86.72,377.11" fill="rgb(48,154,58)" stroke="#0b3a10" stroke-width="1.10" stroke-linejoin="round"/>
<polygon points="87.35,407.92 93.06,411.12 92.97,406.00 87.24,402.84" fill="rgb(34,126,46)" stroke="#0b3a10" stroke-width="1.10" stroke-linejoin="round"/>
<polygon points="93.06,411.12 102.13,405.75 102.09,400.70 92.97,406.00" fill="rgb(44,150,56)" stroke="#0b3a10" stroke-width="1.10" stroke-linejoin="round"/>
<polygon points="87.24,402.84 92.97,406.00 102.09,400.70 96.36,397.65" fill="rgb(48,154,58)" stroke="#0b3a10" stroke-width="1.10" stroke-linejoin="round"/>
<polygon points="96.96,413.31 102.90,416.65 102.86,411.88 96.89,408.59" fill="rgb(34,126,46)" stroke="#0b3a10" stroke-width="1.10" stroke-linejoin="round"/>
<polygon points="102.90,416.65 111.97,411.07 111.97,406.37 102.86,411.88" fill="rgb(44,150,56)" stroke="#0b3a10" stroke-width="1.10" stroke-linejoin="round"/>
<polygon points="96.89,408.59 102.86,411.88 111.97,406.37 106.01,403.20" fill="rgb(48,154,58)" stroke="#0b3a10" stroke-width="1.10" stroke-linejoin="round"/>
<text x="1.22" y="309.00" font-family="Liberation Sans" font-size="17.20" font-weight="bold" font-style="normal" fill="#000">G</text>
<text x="55.70" y="302.00" font-family="Liberation Sans" font-size="7.00" font-weight="normal" font-style="normal" fill="#1a1a1a" textLength="113.10" lengthAdjust="spacingAndGlyphs">Liver Toxicity after FlaG-Ida + 3mg/m<tspan font-size="70%" dy="-2.2">2</tspan><tspan dy="2.2"> GO</tspan></text>
<text x="97.30" y="310.20" font-family="Liberation Sans" font-size="7.00" font-weight="normal" font-style="normal" fill="#1a1a1a" textLength="13.50" lengthAdjust="spacingAndGlyphs">n=15</text>
<text transform="matrix(0.8500 0.0000 -0.2126 1.0000 48.20 338.20)" x="0" y="0" dy="0.36em" text-anchor="middle" font-family="Liberation Sans" font-size="6.40" font-weight="bold" font-style="normal" fill="#111" stroke="#111" stroke-width="0.25">9</text>
<text transform="matrix(0.8500 0.0000 -0.2126 1.0000 48.60 344.18)" x="0" y="0" dy="0.36em" text-anchor="middle" font-family="Liberation Sans" font-size="6.40" font-weight="bold" font-style="normal" fill="#111" stroke="#111" stroke-width="0.25">8</text>
<text transform="matrix(0.8500 0.0000 -0.2126 1.0000 49.00 350.16)" x="0" y="0" dy="0.36em" text-anchor="middle" font-family="Liberation Sans" font-size="6.40" font-weight="bold" font-style="normal" fill="#111" stroke="#111" stroke-width="0.25">7</text>
<text transform="matrix(0.8500 0.0000 -0.2126 1.0000 49.40 356.13)" x="0" y="0" dy="0.36em" text-anchor="middle" font-family="Liberation Sans" font-size="6.40" font-weight="bold" font-style="normal" fill="#111" stroke="#111" stroke-width="0.25">6</text>
<text transform="matrix(0.8500 0.0000 -0.2126 1.0000 49.80 362.11)" x="0" y="0" dy="0.36em" text-anchor="middle" font-family="Liberation Sans" font-size="6.40" font-weight="bold" font-style="normal" fill="#111" stroke="#111" stroke-width="0.25">5</text>
<text transform="matrix(0.8500 0.0000 -0.2126 1.0000 50.20 368.09)" x="0" y="0" dy="0.36em" text-anchor="middle" font-family="Liberation Sans" font-size="6.40" font-weight="bold" font-style="normal" fill="#111" stroke="#111" stroke-width="0.25">4</text>
<text transform="matrix(0.8500 0.0000 -0.2126 1.0000 50.60 374.07)" x="0" y="0" dy="0.36em" text-anchor="middle" font-family="Liberation Sans" font-size="6.40" font-weight="bold" font-style="normal" fill="#111" stroke="#111" stroke-width="0.25">3</text>
<text transform="matrix(0.8500 0.0000 -0.2126 1.0000 51.00 380.04)" x="0" y="0" dy="0.36em" text-anchor="middle" font-family="Liberation Sans" font-size="6.40" font-weight="bold" font-style="normal" fill="#111" stroke="#111" stroke-width="0.25">2</text>
<text transform="matrix(0.8500 0.0000 -0.2126 1.0000 51.40 386.02)" x="0" y="0" dy="0.36em" text-anchor="middle" font-family="Liberation Sans" font-size="6.40" font-weight="bold" font-style="normal" fill="#111" stroke="#111" stroke-width="0.25">1</text>
<text transform="matrix(0.8500 0.0000 -0.2126 1.0000 51.80 392.00)" x="0" y="0" dy="0.36em" text-anchor="middle" font-family="Liberation Sans" font-size="6.40" font-weight="bold" font-style="normal" fill="#111" stroke="#111" stroke-width="0.25">0</text>
<text transform="matrix(0.8628 0.5056 -0.8460 0.5332 55.40 399.60)" x="0" y="0" dy="0.36em" text-anchor="middle" font-family="Liberation Sans" font-size="7.50" font-weight="bold" font-style="normal" fill="#151515" stroke="#151515" stroke-width="0.30">N</text>
<text transform="matrix(0.8628 0.5056 -0.8460 0.5332 65.40 405.00)" x="0" y="0" dy="0.36em" text-anchor="middle" font-family="Liberation Sans" font-size="7.50" font-weight="bold" font-style="normal" fill="#151515" stroke="#151515" stroke-width="0.30">1</text>
<text transform="matrix(0.8628 0.5056 -0.8460 0.5332 73.80 410.40)" x="0" y="0" dy="0.36em" text-anchor="middle" font-family="Liberation Sans" font-size="7.50" font-weight="bold" font-style="normal" fill="#151515" stroke="#151515" stroke-width="0.30">2</text>
<text transform="matrix(0.8628 0.5056 -0.8460 0.5332 83.10 415.80)" x="0" y="0" dy="0.36em" text-anchor="middle" font-family="Liberation Sans" font-size="7.50" font-weight="bold" font-style="normal" fill="#151515" stroke="#151515" stroke-width="0.30">3</text>
<text transform="matrix(0.8628 0.5056 -0.8460 0.5332 92.30 421.20)" x="0" y="0" dy="0.36em" text-anchor="middle" font-family="Liberation Sans" font-size="7.50" font-weight="bold" font-style="normal" fill="#151515" stroke="#151515" stroke-width="0.30">4</text>
<text transform="matrix(0.8730 0.4877 -0.8460 0.5332 53.85 419.60)" x="0" y="0" dy="0.36em" text-anchor="middle" font-family="Liberation Sans" font-size="7.50" font-weight="bold" font-style="normal" fill="#151515" stroke="#151515" stroke-width="0.30" textLength="28.29" lengthAdjust="spacingAndGlyphs">NCI Grade</text>
<text transform="matrix(0.9052 0.4250 -0.8460 0.5332 116.95 420.40)" x="0" y="0" dy="0.36em" text-anchor="middle" font-family="Liberation Sans" font-size="7.50" font-weight="bold" font-style="normal" fill="#151515" stroke="#151515" stroke-width="0.30" textLength="12.70" lengthAdjust="spacingAndGlyphs">AST</text>
<text transform="matrix(0.9285 0.3714 -0.8460 0.5332 133.05 410.00)" x="0" y="0" dy="0.36em" text-anchor="middle" font-family="Liberation Sans" font-size="7.50" font-weight="bold" font-style="normal" fill="#151515" stroke="#151515" stroke-width="0.30" textLength="12.39" lengthAdjust="spacingAndGlyphs">ALP</text>
<text transform="matrix(0.8845 0.4665 -0.7614 0.4799 155.00 407.70)" x="0" y="0" dy="0.36em" text-anchor="middle" font-family="Liberation Mono" font-size="6.80" font-weight="bold" font-style="normal" fill="#151515" stroke="#151515" stroke-width="0.15" textLength="33.01" lengthAdjust="spacing">Bilirubin</text>
</svg></body></html>
